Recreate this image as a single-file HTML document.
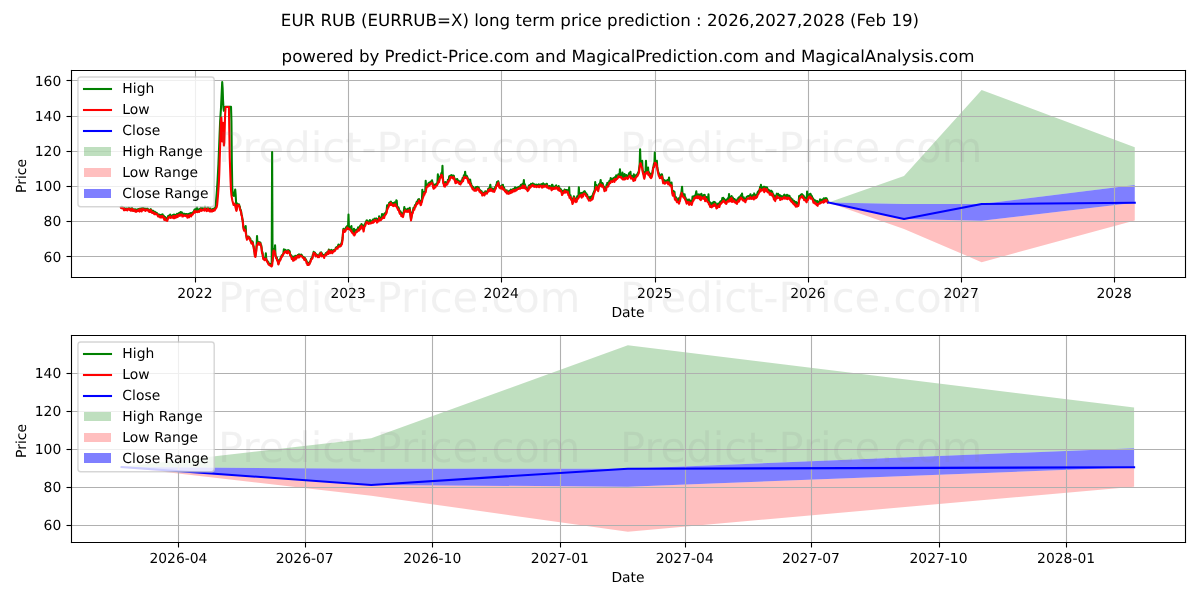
<!DOCTYPE html>
<html lang="en"><head><meta charset="utf-8"><title>EUR RUB (EURRUB=X) long term price prediction</title>
<style>html,body{margin:0;padding:0;background:#fff;width:1200px;height:600px;overflow:hidden}svg{display:block;text-rendering:geometricPrecision;will-change:transform}</style>
</head><body>
<svg width="1200" height="600" viewBox="0 0 864 432" version="1.1">
 <defs>
  <style type="text/css">*{stroke-linejoin: round; stroke-linecap: butt}</style>
 </defs>
 <g id="figure_1">
  <g id="patch_1">
   <path d="M 0 432 L 864 432 L 864 0 L 0 0 z" style="fill: #ffffff" />
  </g>
  <g id="axes_1">
   <g id="patch_2">
    <path d="M 51.12 199.44 L 853.2 199.44 L 853.2 50.4 L 51.12 50.4 z" style="fill: #ffffff" />
   </g>
   <g id="FillBetweenPolyCollection_1">
    <g clip-path="url(#p55792de455)">
     <path d="M 596.51 -286.21 L 596.51 -286.21 L 650.88 -285.14 L 706.77 -285.11 L 817.03 -298.79 L 817.03 -325.91 L 817.03 -325.91 L 706.77 -367.26 L 650.88 -305.3 L 596.51 -286.21 z" transform="translate(0 432)" style="fill: #008000; fill-opacity: 0.25" /></g>
   </g>
   <g id="FillBetweenPolyCollection_2">
    <g clip-path="url(#p55792de455)">
     <path d="M 596.51 -286.21 L 596.51 -286.21 L 650.88 -267.12 L 706.77 -243.23 L 817.03 -273.19 L 817.03 -286.02 L 817.03 -286.02 L 706.77 -273.13 L 650.88 -274.33 L 596.51 -286.21 z" transform="translate(0 432)" style="fill: #ff0000; fill-opacity: 0.25" /></g>
   </g>
   <g id="FillBetweenPolyCollection_3">
    <g clip-path="url(#p55792de455)">
     <path d="M 596.51 -286.21 L 596.51 -286.21 L 650.88 -274.33 L 706.77 -273.13 L 817.03 -286.02 L 817.03 -298.79 L 817.03 -298.79 L 706.77 -285.11 L 650.88 -285.14 L 596.51 -286.21 z" transform="translate(0 432)" style="fill: #0000ff; fill-opacity: 0.5" /></g>
   </g>
   <g id="matplotlib.axis_1">
    <g id="xtick_1">
     <g id="line2d_1">
      <path d="M 140.76 199.8 L 140.76 50.76" clip-path="url(#p55792de455)" style="fill: none; stroke: #b0b0b0; stroke-width: 0.8; stroke-linecap: square" />
     </g>
     <g id="line2d_2">
      <g>
       <path d="M 140.76 199.8 L 140.76 203.4" style="stroke: #000000; stroke-width: 0.8;stroke: #000000; stroke-width: 0.8" /></g>
     </g>
     <g id="text_1">
      <text style="font-size: 10px; font-family: 'DejaVu Sans', 'Liberation Sans', sans-serif; text-anchor: middle" x="140.3496" y="214.36" transform="rotate(-0 140.3496 214.36)">2022</text>
     </g>
    </g>
    <g id="xtick_2">
     <g id="line2d_3">
      <path d="M 250.92 199.8 L 250.92 50.76" clip-path="url(#p55792de455)" style="fill: none; stroke: #b0b0b0; stroke-width: 0.8; stroke-linecap: square" />
     </g>
     <g id="line2d_4">
      <g>
       <path d="M 250.92 199.8 L 250.92 203.4" style="stroke: #000000; stroke-width: 0.8;stroke: #000000; stroke-width: 0.8" /></g>
     </g>
     <g id="text_2">
      <text style="font-size: 10px; font-family: 'DejaVu Sans', 'Liberation Sans', sans-serif; text-anchor: middle" x="250.612596" y="214.36" transform="rotate(-0 250.612596 214.36)">2023</text>
     </g>
    </g>
    <g id="xtick_3">
     <g id="line2d_5">
      <path d="M 361.08 199.8 L 361.08 50.76" clip-path="url(#p55792de455)" style="fill: none; stroke: #b0b0b0; stroke-width: 0.8; stroke-linecap: square" />
     </g>
     <g id="line2d_6">
      <g>
       <path d="M 361.08 199.8 L 361.08 203.4" style="stroke: #000000; stroke-width: 0.8;stroke: #000000; stroke-width: 0.8" /></g>
     </g>
     <g id="text_3">
      <text style="font-size: 10px; font-family: 'DejaVu Sans', 'Liberation Sans', sans-serif; text-anchor: middle" x="360.875592" y="214.36" transform="rotate(-0 360.875592 214.36)">2024</text>
     </g>
    </g>
    <g id="xtick_4">
     <g id="line2d_7">
      <path d="M 471.96 199.8 L 471.96 50.76" clip-path="url(#p55792de455)" style="fill: none; stroke: #b0b0b0; stroke-width: 0.8; stroke-linecap: square" />
     </g>
     <g id="line2d_8">
      <g>
       <path d="M 471.96 199.8 L 471.96 203.4" style="stroke: #000000; stroke-width: 0.8;stroke: #000000; stroke-width: 0.8" /></g>
     </g>
     <g id="text_4">
      <text style="font-size: 10px; font-family: 'DejaVu Sans', 'Liberation Sans', sans-serif; text-anchor: middle" x="471.440678" y="214.36" transform="rotate(-0 471.440678 214.36)">2025</text>
     </g>
    </g>
    <g id="xtick_5">
     <g id="line2d_9">
      <path d="M 582.12 199.8 L 582.12 50.76" clip-path="url(#p55792de455)" style="fill: none; stroke: #b0b0b0; stroke-width: 0.8; stroke-linecap: square" />
     </g>
     <g id="line2d_10">
      <g>
       <path d="M 582.12 199.8 L 582.12 203.4" style="stroke: #000000; stroke-width: 0.8;stroke: #000000; stroke-width: 0.8" /></g>
     </g>
     <g id="text_5">
      <text style="font-size: 10px; font-family: 'DejaVu Sans', 'Liberation Sans', sans-serif; text-anchor: middle" x="581.703674" y="214.36" transform="rotate(-0 581.703674 214.36)">2026</text>
     </g>
    </g>
    <g id="xtick_6">
     <g id="line2d_11">
      <path d="M 692.28 199.8 L 692.28 50.76" clip-path="url(#p55792de455)" style="fill: none; stroke: #b0b0b0; stroke-width: 0.8; stroke-linecap: square" />
     </g>
     <g id="line2d_12">
      <g>
       <path d="M 692.28 199.8 L 692.28 203.4" style="stroke: #000000; stroke-width: 0.8;stroke: #000000; stroke-width: 0.8" /></g>
     </g>
     <g id="text_6">
      <text style="font-size: 10px; font-family: 'DejaVu Sans', 'Liberation Sans', sans-serif; text-anchor: middle" x="691.96667" y="214.36" transform="rotate(-0 691.96667 214.36)">2027</text>
     </g>
    </g>
    <g id="xtick_7">
     <g id="line2d_13">
      <path d="M 802.44 199.8 L 802.44 50.76" clip-path="url(#p55792de455)" style="fill: none; stroke: #b0b0b0; stroke-width: 0.8; stroke-linecap: square" />
     </g>
     <g id="line2d_14">
      <g>
       <path d="M 802.44 199.8 L 802.44 203.4" style="stroke: #000000; stroke-width: 0.8;stroke: #000000; stroke-width: 0.8" /></g>
     </g>
     <g id="text_7">
      <text style="font-size: 10px; font-family: 'DejaVu Sans', 'Liberation Sans', sans-serif; text-anchor: middle" x="802.229666" y="214.36" transform="rotate(-0 802.229666 214.36)">2028</text>
     </g>
    </g>
    <g id="text_8">
     <text style="font-size: 10px; font-family: 'DejaVu Sans', 'Liberation Sans', sans-serif; text-anchor: middle" x="452.16" y="228.44" transform="rotate(-0 452.16 228.44)">Date</text>
    </g>
   </g>
   <g id="matplotlib.axis_2">
    <g id="ytick_1">
     <g id="line2d_15">
      <path d="M 51.48 184.68 L 853.56 184.68" clip-path="url(#p55792de455)" style="fill: none; stroke: #b0b0b0; stroke-width: 0.8; stroke-linecap: square" />
     </g>
     <g id="line2d_16">
      <g>
       <path d="M 51.48 184.68 L 47.88 184.68" style="stroke: #000000; stroke-width: 0.8;stroke: #000000; stroke-width: 0.8" /></g>
     </g>
     <g id="text_9">
      <text style="font-size: 10px; font-family: 'DejaVu Sans', 'Liberation Sans', sans-serif; text-anchor: end" x="44.12" y="188.3088" transform="rotate(-0 44.12 188.3088)">60</text>
     </g>
    </g>
    <g id="ytick_2">
     <g id="line2d_17">
      <path d="M 51.48 159.48 L 853.56 159.48" clip-path="url(#p55792de455)" style="fill: none; stroke: #b0b0b0; stroke-width: 0.8; stroke-linecap: square" />
     </g>
     <g id="line2d_18">
      <g>
       <path d="M 51.48 159.48 L 47.88 159.48" style="stroke: #000000; stroke-width: 0.8;stroke: #000000; stroke-width: 0.8" /></g>
     </g>
     <g id="text_10">
      <text style="font-size: 10px; font-family: 'DejaVu Sans', 'Liberation Sans', sans-serif; text-anchor: end" x="44.12" y="163.0224" transform="rotate(-0 44.12 163.0224)">80</text>
     </g>
    </g>
    <g id="ytick_3">
     <g id="line2d_19">
      <path d="M 51.48 134.28 L 853.56 134.28" clip-path="url(#p55792de455)" style="fill: none; stroke: #b0b0b0; stroke-width: 0.8; stroke-linecap: square" />
     </g>
     <g id="line2d_20">
      <g>
       <path d="M 51.48 134.28 L 47.88 134.28" style="stroke: #000000; stroke-width: 0.8;stroke: #000000; stroke-width: 0.8" /></g>
     </g>
     <g id="text_11">
      <text style="font-size: 10px; font-family: 'DejaVu Sans', 'Liberation Sans', sans-serif; text-anchor: end" x="44.12" y="137.736" transform="rotate(-0 44.12 137.736)">100</text>
     </g>
    </g>
    <g id="ytick_4">
     <g id="line2d_21">
      <path d="M 51.48 109.08 L 853.56 109.08" clip-path="url(#p55792de455)" style="fill: none; stroke: #b0b0b0; stroke-width: 0.8; stroke-linecap: square" />
     </g>
     <g id="line2d_22">
      <g>
       <path d="M 51.48 109.08 L 47.88 109.08" style="stroke: #000000; stroke-width: 0.8;stroke: #000000; stroke-width: 0.8" /></g>
     </g>
     <g id="text_12">
      <text style="font-size: 10px; font-family: 'DejaVu Sans', 'Liberation Sans', sans-serif; text-anchor: end" x="44.12" y="112.4496" transform="rotate(-0 44.12 112.4496)">120</text>
     </g>
    </g>
    <g id="ytick_5">
     <g id="line2d_23">
      <path d="M 51.48 83.88 L 853.56 83.88" clip-path="url(#p55792de455)" style="fill: none; stroke: #b0b0b0; stroke-width: 0.8; stroke-linecap: square" />
     </g>
     <g id="line2d_24">
      <g>
       <path d="M 51.48 83.88 L 47.88 83.88" style="stroke: #000000; stroke-width: 0.8;stroke: #000000; stroke-width: 0.8" /></g>
     </g>
     <g id="text_13">
      <text style="font-size: 10px; font-family: 'DejaVu Sans', 'Liberation Sans', sans-serif; text-anchor: end" x="44.12" y="87.1632" transform="rotate(-0 44.12 87.1632)">140</text>
     </g>
    </g>
    <g id="ytick_6">
     <g id="line2d_25">
      <path d="M 51.48 57.96 L 853.56 57.96" clip-path="url(#p55792de455)" style="fill: none; stroke: #b0b0b0; stroke-width: 0.8; stroke-linecap: square" />
     </g>
     <g id="line2d_26">
      <g>
       <path d="M 51.48 57.96 L 47.88 57.96" style="stroke: #000000; stroke-width: 0.8;stroke: #000000; stroke-width: 0.8" /></g>
     </g>
     <g id="text_14">
      <text style="font-size: 10px; font-family: 'DejaVu Sans', 'Liberation Sans', sans-serif; text-anchor: end" x="44.12" y="61.8768" transform="rotate(-0 44.12 61.8768)">160</text>
     </g>
    </g>
    <g id="text_15">
     <text style="font-size: 10px; font-family: 'DejaVu Sans', 'Liberation Sans', sans-serif; text-anchor: middle" x="18.88" y="126.72" transform="rotate(-90 18.88 126.72)">Price</text>
    </g>
   </g>
   <g id="line2d_27">
    <path d="M 87.18 149.25 L 87.48 149.71 L 87.79 148.81 L 88.09 149.21 L 88.69 149.38 L 89.3 150.74 L 89.6 149.81 L 89.9 150.01 L 90.2 151.04 L 90.5 150.79 L 90.81 150.69 L 91.11 150 L 91.71 150.97 L 92.02 150.06 L 92.32 150.01 L 92.62 149.57 L 92.92 150.22 L 93.22 149.86 L 93.53 150.94 L 93.83 150.18 L 94.13 151.31 L 94.43 151.04 L 94.73 151.24 L 95.04 149.63 L 95.64 151.47 L 96.24 150.75 L 96.55 151.38 L 96.85 150.81 L 97.15 151.13 L 97.45 151.96 L 97.75 150.76 L 98.36 152.02 L 98.96 150.75 L 99.27 151.58 L 99.57 151.31 L 99.87 150.52 L 100.17 151.41 L 100.47 151.23 L 100.78 150.22 L 101.08 151.43 L 101.38 150.85 L 101.68 149.99 L 101.98 151.73 L 102.29 151.12 L 102.59 149.76 L 103.19 150.7 L 103.49 149.75 L 103.8 150.78 L 104.1 150.47 L 104.4 151.07 L 104.7 151.26 L 105.01 150.11 L 105.31 150.47 L 105.91 150.63 L 106.21 150.22 L 107.42 151.99 L 107.72 151.01 L 108.03 150.95 L 108.33 151.8 L 108.63 150.61 L 108.93 151.63 L 109.23 151.32 L 109.54 152.94 L 110.44 151.83 L 111.05 153.33 L 111.35 152.71 L 111.65 152.55 L 111.95 153.4 L 112.26 153.23 L 112.86 153.28 L 113.16 153.71 L 113.46 153.92 L 113.77 154.83 L 114.07 154.85 L 114.37 154.68 L 114.67 154.81 L 114.97 154.55 L 115.88 155.42 L 116.18 154.67 L 116.48 155.45 L 116.79 154.63 L 117.09 154.4 L 117.39 155.44 L 117.69 155.17 L 117.99 155.45 L 118.3 157.23 L 118.6 155.98 L 119.2 156.9 L 119.51 157.38 L 119.81 157.38 L 120.11 157.96 L 120.41 158.15 L 120.71 156.6 L 121.02 155.66 L 121.32 155.79 L 121.62 155.67 L 121.92 154.99 L 122.22 155.69 L 122.53 154.47 L 122.83 155.45 L 123.13 155.49 L 123.43 155.75 L 123.73 155.5 L 124.04 155.42 L 124.34 154.85 L 124.64 155.17 L 124.94 155.97 L 125.25 154.39 L 125.55 156.02 L 125.85 154.66 L 126.15 155.36 L 126.45 154.97 L 126.76 155.81 L 127.06 154.49 L 127.36 154.06 L 127.66 155.2 L 127.96 155.13 L 128.27 153.96 L 128.87 153.49 L 129.17 153.32 L 129.47 154.47 L 129.78 153.8 L 130.08 152.64 L 130.38 153.48 L 130.68 153.77 L 130.98 152.93 L 131.29 154.93 L 131.59 154.23 L 131.89 154.93 L 132.5 153.79 L 132.8 154.27 L 133.1 154.34 L 133.4 154.53 L 133.7 154.12 L 134.01 154.27 L 134.31 154.04 L 134.61 154.18 L 134.91 155.88 L 135.21 154.32 L 135.52 154.12 L 135.82 154.63 L 136.12 155.61 L 136.42 153.74 L 136.72 154.38 L 137.03 154.36 L 137.33 153.4 L 137.63 155.01 L 137.93 153.87 L 138.23 153.75 L 138.54 153.05 L 138.84 153.47 L 139.14 152.63 L 139.44 152.52 L 140.05 150.92 L 140.35 152.09 L 140.65 150.72 L 140.95 151.88 L 141.26 151.44 L 141.56 151.47 L 141.86 149.04 L 142.16 151.2 L 142.46 151.24 L 142.77 150.84 L 143.07 150.99 L 143.37 151.6 L 143.67 150.52 L 143.97 150.91 L 144.58 149.52 L 144.88 150.93 L 145.18 150.75 L 145.49 149.67 L 145.79 150.36 L 146.39 150.51 L 147 149.79 L 147.3 150.77 L 147.6 148.54 L 147.9 150.3 L 148.2 150.12 L 148.81 150.7 L 149.11 150.51 L 149.41 149.61 L 149.71 149.12 L 150.02 150.47 L 150.32 149.95 L 150.92 151.36 L 151.22 150.22 L 151.53 150.04 L 151.83 151.42 L 152.13 150.98 L 152.43 151.26 L 152.74 150.84 L 153.04 150.82 L 153.34 150.37 L 153.64 150.83 L 154.25 150 L 154.55 150.58 L 155.15 149.5 L 156.06 138.98 L 156.66 130 L 157.27 118.31 L 158.48 87.8 L 159.08 78.45 L 159.99 59.11 L 160.29 63.39 L 160.59 72.17 L 160.89 77.48 L 161.19 79.75 L 162.1 76.97 L 162.4 76.82 L 166.33 76.82 L 166.63 87.16 L 166.93 117.59 L 167.24 135.67 L 167.54 140.45 L 168.44 141.09 L 169.35 136.43 L 169.65 139.86 L 170.26 151.01 L 170.56 149.65 L 170.86 146.5 L 171.16 147.51 L 171.46 147.59 L 171.77 147.51 L 172.07 147.08 L 172.37 148.34 L 172.67 148.8 L 172.98 150.91 L 173.28 150.98 L 173.58 152.08 L 173.88 154.27 L 174.18 155.02 L 174.49 157.6 L 174.79 158.65 L 175.09 162.31 L 175.69 165.6 L 176 164.61 L 176.3 164.28 L 176.6 165.03 L 176.9 162.72 L 177.2 168.71 L 177.81 171.98 L 178.11 170.81 L 178.41 170.48 L 179.02 170.31 L 179.32 170.92 L 179.62 171.05 L 179.92 171.91 L 180.23 171.84 L 180.53 173.43 L 180.83 173.92 L 181.13 174.83 L 181.74 173.81 L 182.04 174.43 L 182.34 176.54 L 182.64 177.39 L 182.94 179.94 L 183.25 181.13 L 183.55 183.92 L 183.85 184.42 L 184.45 180.18 L 184.76 176.81 L 185.06 169.92 L 185.36 175.32 L 185.66 175.28 L 185.97 174.01 L 186.27 174.43 L 186.57 175.62 L 186.87 174.38 L 187.17 174.64 L 187.48 174.56 L 187.78 176.25 L 188.08 176.56 L 188.38 178.58 L 188.68 181.55 L 188.99 181.5 L 189.29 184.48 L 189.59 185.71 L 189.89 185.45 L 190.19 185.96 L 190.5 186.98 L 190.8 185.86 L 191.1 185.44 L 191.4 182.38 L 191.7 186.15 L 192.01 187.14 L 192.31 187.68 L 192.61 187.94 L 192.91 188.81 L 193.22 188.69 L 193.52 189.88 L 193.82 190.04 L 194.12 190.35 L 194.42 190 L 194.73 190.6 L 195.03 190.73 L 195.33 191.31 L 195.63 191.03 L 195.93 109.44 L 196.24 187.77 L 196.84 180.44 L 197.14 179.36 L 197.44 181.07 L 197.75 180.13 L 198.05 176.62 L 198.35 183.87 L 198.65 184.54 L 198.96 185.7 L 199.26 185.23 L 199.56 186.78 L 200.16 188.17 L 200.47 189.91 L 200.77 188.87 L 201.07 187.39 L 201.37 186.86 L 201.67 187.09 L 201.98 186.3 L 202.28 184.98 L 202.58 184.8 L 202.88 183.83 L 203.49 183.62 L 203.79 183.2 L 204.09 181.72 L 204.39 179.5 L 204.69 180.83 L 205 180.13 L 205.3 180.43 L 205.6 179.91 L 205.9 180.26 L 206.21 181.63 L 206.51 180.9 L 206.81 181.24 L 207.11 181.34 L 207.41 180.04 L 207.72 180.68 L 208.02 180.82 L 208.32 180.5 L 208.62 181.06 L 208.92 183.24 L 209.23 183.72 L 209.53 183.6 L 209.83 184.17 L 210.13 185.9 L 210.43 185.48 L 210.74 185.26 L 211.04 184.82 L 211.34 186.24 L 211.64 186.9 L 211.95 185.79 L 212.25 185.32 L 212.55 184.22 L 212.85 186.44 L 213.15 184.35 L 213.46 185.42 L 213.76 184.23 L 214.06 184.68 L 214.36 183.64 L 214.66 183.94 L 214.97 184.51 L 215.27 183.16 L 215.57 184.41 L 216.17 183.5 L 216.48 183.47 L 216.78 183.6 L 217.08 183.38 L 217.68 184.35 L 217.99 184.78 L 218.59 185.19 L 218.89 185.58 L 219.2 186.57 L 219.5 185.68 L 219.8 186.61 L 220.1 186.55 L 220.71 187.94 L 221.31 189.75 L 221.61 189.01 L 221.91 189.48 L 222.22 190.22 L 222.52 189.63 L 222.82 189.66 L 223.12 188.6 L 223.42 188.29 L 224.03 186.08 L 224.63 185.54 L 224.93 185.45 L 225.24 183.31 L 225.54 183.13 L 225.84 181.32 L 226.14 182.13 L 226.45 181.69 L 226.75 181.85 L 227.35 183.79 L 227.65 182.96 L 228.26 183.64 L 228.56 183.61 L 228.86 184.19 L 229.16 184.07 L 229.47 184.12 L 229.77 184.43 L 230.07 182.77 L 230.37 182.87 L 230.67 181.84 L 231.28 181.73 L 231.58 183.78 L 231.88 182.58 L 232.19 183.72 L 232.49 183.67 L 232.79 183.95 L 233.09 183.65 L 233.39 184.77 L 233.7 183.7 L 234 183.17 L 234.3 182.89 L 234.6 182.28 L 234.9 182.88 L 235.21 182.72 L 235.51 181.74 L 235.81 181.25 L 236.11 181.17 L 236.41 182.33 L 236.72 179.66 L 237.02 181.68 L 237.32 180.16 L 237.62 181.7 L 237.92 180.62 L 238.23 180.53 L 238.53 179.9 L 238.83 180.06 L 239.13 181.64 L 239.74 180.85 L 240.34 179.97 L 240.95 180.12 L 241.25 179.8 L 241.55 179.22 L 241.85 178.24 L 242.15 178.3 L 242.46 177.81 L 243.06 178.08 L 243.36 177.27 L 243.66 176.11 L 243.97 176.98 L 244.27 176.64 L 244.57 176.75 L 244.87 176.66 L 245.17 175.99 L 245.48 176.47 L 246.38 173.25 L 246.69 171.19 L 246.99 167.09 L 247.29 164.79 L 247.89 165.76 L 248.2 166.26 L 248.5 165 L 248.8 165.24 L 249.1 163.57 L 249.4 163.73 L 250.01 162.66 L 250.31 163.7 L 250.61 163.48 L 250.91 154.44 L 251.22 163.35 L 251.52 163.74 L 251.82 163.55 L 252.12 164.28 L 252.43 164.67 L 252.73 164.75 L 253.03 162.72 L 253.33 166.27 L 253.94 166.63 L 254.24 166.42 L 254.54 167.58 L 254.84 164.66 L 255.14 168.28 L 255.75 166.55 L 256.05 166.65 L 256.35 165.41 L 256.96 165.59 L 257.26 165.34 L 257.56 164.83 L 257.86 163.68 L 258.16 164.97 L 258.47 164.8 L 258.77 164.38 L 259.37 162.33 L 259.68 163.42 L 259.98 162.91 L 260.28 161.27 L 261.49 163.44 L 261.79 165.32 L 262.39 161.69 L 262.7 161.79 L 263 161.13 L 263.3 160.06 L 263.6 159.75 L 263.9 158.73 L 264.21 158.65 L 264.51 159.38 L 264.81 159.78 L 265.11 159.63 L 265.42 159.93 L 265.72 159.16 L 266.02 159.5 L 266.32 158.4 L 266.62 159.76 L 266.93 159.84 L 267.53 159.14 L 267.83 159.32 L 268.44 158.15 L 268.74 159.17 L 269.04 158.39 L 269.34 158.23 L 269.64 157.4 L 269.95 158.06 L 270.25 158.1 L 270.55 157.94 L 270.85 157.25 L 271.46 159.24 L 272.06 157.66 L 272.36 157.8 L 272.67 158.07 L 272.97 155.77 L 273.27 156.99 L 273.57 157.01 L 274.18 157.36 L 274.48 157.02 L 274.78 156.21 L 275.08 154.08 L 275.38 156.24 L 275.69 155.35 L 275.99 155.21 L 276.29 154.38 L 276.59 155.93 L 276.89 153.72 L 277.2 153.95 L 277.5 153.16 L 277.8 153.48 L 278.4 151.2 L 278.71 147.82 L 279.01 149.45 L 279.31 148.54 L 279.61 148.05 L 279.92 147.21 L 280.22 146 L 280.52 145.77 L 280.82 146.5 L 281.12 145.3 L 281.43 145.11 L 281.73 146.46 L 282.03 146.23 L 282.33 146.64 L 282.63 146.16 L 282.94 147.13 L 283.24 146.27 L 283.54 147.39 L 283.84 146.21 L 284.14 145.72 L 284.45 146.33 L 284.75 145.95 L 285.05 147.3 L 285.35 144.22 L 285.66 144.5 L 285.96 148.69 L 286.26 149.11 L 286.56 149.76 L 286.86 149.36 L 287.17 150.21 L 287.77 152.58 L 288.07 152.72 L 288.37 152.18 L 288.98 154.18 L 289.58 153.64 L 289.88 153.93 L 290.19 155.01 L 290.79 151.97 L 291.09 149.04 L 291.39 151.41 L 291.7 150.42 L 292 150.55 L 292.6 151.26 L 292.91 150.96 L 293.21 151.33 L 293.51 150.32 L 293.81 150.65 L 294.11 150.42 L 294.42 151.16 L 295.02 149.62 L 295.93 157.66 L 296.53 154.18 L 296.83 152.77 L 297.13 152.5 L 297.74 149.58 L 298.34 149.91 L 298.64 148.22 L 298.95 147.48 L 299.25 147.6 L 300.16 145.05 L 300.46 145.39 L 300.76 145.38 L 301.06 143.64 L 301.36 144.72 L 301.67 143.25 L 301.97 144.15 L 302.27 144.5 L 302.57 145.74 L 302.87 146.51 L 303.18 146.21 L 303.48 144.43 L 303.78 144.52 L 304.08 136.66 L 304.38 141.84 L 304.99 139.91 L 305.29 138.2 L 305.59 139.16 L 305.9 138.09 L 306.2 137.66 L 306.5 130.18 L 306.8 135.66 L 307.1 133.85 L 307.41 133.6 L 307.71 132.91 L 308.01 133.08 L 308.61 131.78 L 308.92 132.75 L 309.22 131.43 L 309.52 131.3 L 309.82 131.65 L 310.43 130.58 L 310.73 130.57 L 311.03 129.82 L 312.24 134.96 L 312.54 134.19 L 312.84 134.05 L 313.15 132.9 L 313.45 133.41 L 313.75 132.85 L 314.05 132.78 L 314.35 132.1 L 314.66 132.14 L 314.96 131.22 L 315.26 125.5 L 315.56 129.92 L 315.86 129.51 L 316.17 130.22 L 316.47 128.16 L 316.77 127.35 L 317.07 126.94 L 317.98 124.28 L 318.28 125.32 L 318.58 119.3 L 318.89 127.94 L 319.19 130.88 L 319.49 131.42 L 319.79 133.17 L 320.09 132.06 L 320.4 132.85 L 320.7 131 L 321 131.53 L 321.3 131.6 L 321.6 132.03 L 321.91 131.38 L 322.21 131.43 L 322.51 129.42 L 322.81 130.14 L 323.11 129.14 L 323.42 126.94 L 323.72 128.44 L 324.32 126.43 L 324.62 127.21 L 324.93 126.33 L 325.23 126.1 L 325.53 126.9 L 325.83 126.5 L 326.14 127.52 L 326.44 126.42 L 326.74 126.49 L 327.04 128.13 L 327.95 130.8 L 328.25 130.15 L 328.55 129.06 L 328.85 130.59 L 329.16 128.88 L 329.46 130.27 L 329.76 129.82 L 330.06 130.21 L 330.36 130.21 L 330.67 131.35 L 330.97 131.03 L 331.27 131.57 L 331.57 131.47 L 332.18 130.13 L 332.48 129.79 L 332.78 129.94 L 333.08 128.16 L 333.39 129.58 L 333.99 126.26 L 334.29 126.36 L 334.59 126.68 L 334.9 123.62 L 335.2 126.73 L 335.8 126.4 L 336.1 126.71 L 336.71 128.14 L 337.31 129.98 L 337.61 129.2 L 338.22 129.95 L 338.52 129.38 L 338.82 131.59 L 339.13 131.97 L 339.43 133.57 L 340.03 134.16 L 340.33 135.29 L 340.64 134.59 L 340.94 135.08 L 341.24 135.89 L 341.84 135.82 L 342.15 135.75 L 342.45 136.07 L 342.75 134.64 L 343.05 135.4 L 343.35 134.7 L 343.66 134.59 L 343.96 135.6 L 344.26 135.31 L 344.56 134.82 L 344.86 135.45 L 345.17 137.03 L 345.47 136.7 L 345.77 137.41 L 346.07 137.21 L 346.38 138.09 L 346.68 137.59 L 346.98 138.32 L 347.28 140.07 L 347.58 138.84 L 347.89 138.76 L 348.19 138.92 L 348.49 139.33 L 348.79 140.07 L 349.4 137.74 L 349.7 138.38 L 350 138.36 L 350.3 137.99 L 350.6 138.72 L 350.91 137.76 L 351.21 137.65 L 351.51 135.94 L 351.81 136.66 L 352.11 136.98 L 352.42 135.33 L 352.72 134.91 L 353.02 132.98 L 353.32 136.16 L 353.63 135.49 L 354.53 136.99 L 354.83 135.79 L 355.14 137.17 L 355.44 136.7 L 355.74 137.08 L 356.04 136.98 L 356.65 134.51 L 356.95 134.91 L 357.25 133.17 L 357.55 132.98 L 357.85 131.04 L 358.16 131.18 L 358.46 131.94 L 358.76 130.43 L 359.37 133.82 L 359.67 134.12 L 359.97 133.86 L 360.27 134.6 L 360.88 134.45 L 361.18 134.9 L 361.48 133.38 L 361.78 134.79 L 362.08 132.98 L 362.39 135.54 L 362.69 135.05 L 362.99 135.08 L 363.29 136.47 L 363.59 136.98 L 363.9 137 L 364.2 137.44 L 364.5 137.63 L 364.8 136.95 L 365.1 138.44 L 365.41 138.48 L 365.71 138.09 L 366.01 138.16 L 366.31 138.5 L 366.62 137.3 L 367.22 137.66 L 367.52 138.36 L 367.82 136.56 L 368.13 137.66 L 368.43 136.93 L 368.73 136.52 L 369.03 137.31 L 369.64 136.02 L 369.94 136.27 L 370.24 136.89 L 370.54 136.58 L 370.84 134.86 L 371.15 136.35 L 371.45 136.48 L 371.75 135.38 L 372.05 135.73 L 372.36 135.26 L 372.66 135.3 L 372.96 135.1 L 373.26 134.66 L 373.56 135.03 L 373.87 134.43 L 374.17 134.3 L 374.47 134.89 L 375.07 132.98 L 375.38 134.46 L 375.68 133.77 L 375.98 134.57 L 376.28 132.29 L 376.58 133.59 L 376.89 132.87 L 377.19 129.6 L 377.49 134.34 L 377.79 132.58 L 378.09 133.32 L 378.4 134.77 L 379 135.68 L 379.3 135.46 L 379.61 135.85 L 379.91 136.68 L 380.21 135.94 L 380.51 136.07 L 380.81 133.54 L 381.12 134.78 L 381.42 133.32 L 381.72 134.09 L 382.02 133.54 L 382.32 132.43 L 382.63 133.56 L 383.23 132.43 L 383.53 132.04 L 384.14 132.91 L 384.44 133.6 L 384.74 132.72 L 385.04 133.49 L 385.34 133.07 L 385.65 133.18 L 385.95 133.44 L 386.25 132.93 L 386.86 133.26 L 387.16 133.31 L 387.46 133.49 L 387.76 132.76 L 388.06 133.95 L 388.37 132.93 L 388.67 133.5 L 388.97 132.92 L 389.27 133.24 L 389.57 133.07 L 389.88 132.62 L 390.18 134.23 L 390.48 133.45 L 390.78 133.83 L 391.08 131.98 L 391.39 132.85 L 391.69 132.96 L 391.99 133.2 L 392.29 132.77 L 392.6 133.23 L 392.9 133.48 L 393.2 132.47 L 393.5 132.48 L 393.8 132.3 L 394.11 134.24 L 394.41 133.81 L 395.01 134.47 L 395.31 134.71 L 395.62 133.91 L 395.92 134.15 L 396.22 134.59 L 396.52 134.08 L 396.82 134.87 L 397.13 136 L 397.43 132.98 L 397.73 132.98 L 398.33 134.99 L 398.94 134.44 L 399.24 134.47 L 399.54 135.27 L 399.85 134.02 L 400.15 133.92 L 400.45 133.52 L 400.75 134.65 L 401.05 134.6 L 401.36 135.25 L 401.66 134.86 L 401.96 135.63 L 402.26 133.98 L 402.56 135.56 L 402.87 136.53 L 403.17 135.94 L 403.47 135.75 L 403.77 136.46 L 404.07 136.55 L 404.68 139.21 L 404.98 139.12 L 405.28 137.56 L 405.58 137.71 L 405.89 137.46 L 406.19 137.53 L 406.49 136.45 L 406.79 136.65 L 407.1 137.45 L 407.4 137.26 L 407.7 136.88 L 408.3 136.9 L 408.61 137.63 L 408.91 137.22 L 409.21 139.44 L 409.51 139.19 L 409.81 134.86 L 410.12 140.82 L 410.42 141.53 L 410.72 140.61 L 411.02 142.3 L 411.32 143.08 L 411.63 142.84 L 411.93 143.93 L 412.23 145.91 L 412.53 144.65 L 412.84 144.71 L 413.14 141.28 L 413.44 141.67 L 414.04 143.2 L 414.35 143.24 L 414.65 144.22 L 414.95 143.51 L 415.25 143.66 L 415.55 141.34 L 415.86 142.23 L 416.16 140.91 L 416.46 141.53 L 416.76 134.86 L 417.06 139.88 L 417.37 139.38 L 417.67 139.97 L 417.97 139.79 L 418.27 138.94 L 418.57 140.72 L 418.88 140.85 L 419.18 138.78 L 419.78 140 L 420.09 138.66 L 420.39 137.95 L 420.69 138.02 L 420.99 137.68 L 421.9 139.81 L 422.2 139.3 L 422.5 140.2 L 422.8 140.24 L 423.11 141.71 L 423.41 141.69 L 423.71 142.18 L 424.01 142.95 L 424.31 142.75 L 424.62 143.05 L 424.92 141.62 L 425.22 143.03 L 425.52 142.81 L 425.83 142.27 L 426.13 142.41 L 426.43 140.75 L 426.73 141.8 L 427.03 139.68 L 427.64 138.16 L 428.24 136.83 L 428.54 131.04 L 428.85 135.47 L 429.15 133.83 L 429.45 133.14 L 429.75 134.71 L 430.05 134.21 L 430.36 134.95 L 430.66 136.16 L 430.96 134.92 L 431.26 132.77 L 431.56 132.27 L 431.87 132.2 L 432.17 131.37 L 432.47 129.6 L 432.77 132.01 L 433.08 133.07 L 433.68 131.78 L 433.98 132.21 L 434.28 133.76 L 434.89 134.5 L 435.19 136.29 L 435.49 135.99 L 435.79 136.05 L 436.1 135.52 L 436.4 135.3 L 436.7 133.12 L 437 133.24 L 437.3 131.54 L 437.61 133.13 L 437.91 132.96 L 438.81 130.28 L 439.12 130.05 L 439.42 130.57 L 439.72 128.16 L 440.02 129.18 L 440.63 129.58 L 440.93 129.58 L 441.23 128.58 L 441.53 129.21 L 441.84 128.32 L 442.14 128 L 442.44 129.52 L 442.74 127.65 L 443.04 128.34 L 443.35 128.31 L 443.65 126.22 L 444.25 127.28 L 444.55 126.77 L 444.86 126.86 L 445.16 125.54 L 445.46 126.11 L 445.76 125.92 L 446.07 125.97 L 446.37 121.82 L 446.67 125.89 L 446.97 126.52 L 447.27 125.85 L 447.58 126.99 L 447.88 127.35 L 448.18 124.2 L 448.48 127.94 L 448.78 127.36 L 449.09 127.46 L 449.39 128.06 L 449.69 125.28 L 449.99 127.83 L 450.29 127.25 L 450.6 127.22 L 450.9 126.03 L 451.2 126.77 L 451.8 126.76 L 452.11 127.23 L 453.01 124.66 L 453.32 125.02 L 453.62 124.83 L 453.92 123.62 L 454.22 127.11 L 454.83 126.57 L 455.13 127.23 L 455.43 127.4 L 455.73 127.43 L 456.03 129.08 L 456.34 125.42 L 456.94 128.65 L 457.24 128.58 L 457.54 126.8 L 457.85 126.22 L 458.15 126.22 L 458.45 125.65 L 458.75 125.75 L 459.96 123.18 L 460.57 117.96 L 460.87 107.42 L 461.17 116.3 L 461.47 116.66 L 461.77 118.5 L 462.08 118.86 L 462.38 115.78 L 462.68 122.37 L 463.28 124.03 L 463.89 127.52 L 464.19 126.2 L 464.49 123.68 L 464.79 123.83 L 465.1 115.78 L 465.4 122.61 L 466 123.64 L 466.31 122.38 L 466.61 120.6 L 466.91 124.92 L 467.21 123.84 L 467.51 124.31 L 467.82 125.74 L 468.12 126.26 L 468.42 125.39 L 468.72 126.88 L 469.33 125.89 L 469.93 122.98 L 470.23 120.57 L 470.53 119.67 L 470.84 117.81 L 471.14 118.92 L 471.44 109.8 L 471.74 116.64 L 472.04 116.14 L 472.35 116.53 L 472.65 116.56 L 472.95 115.78 L 473.25 120.45 L 473.86 123.66 L 475.07 126.7 L 475.37 126.5 L 475.67 126.59 L 475.97 126.92 L 476.27 125.42 L 476.58 125.42 L 477.18 128.52 L 477.48 130.29 L 477.78 129.43 L 478.09 130.63 L 478.39 129.82 L 478.69 130.35 L 479.6 130.18 L 480.2 130.28 L 480.5 129.78 L 480.81 129.64 L 481.11 131.47 L 481.71 127.8 L 482.01 130.91 L 482.32 131.95 L 482.62 132.55 L 482.92 131.93 L 483.22 133.03 L 483.52 131.49 L 483.83 135.59 L 484.43 139.57 L 484.73 139.09 L 485.03 137.51 L 485.34 138.38 L 485.64 138.17 L 485.94 142.11 L 486.24 142.16 L 486.55 142.55 L 486.85 142.04 L 487.15 143.57 L 487.45 144.12 L 487.75 143.95 L 488.06 144.07 L 488.36 143.79 L 488.66 142.78 L 488.96 144.83 L 489.26 143.29 L 489.57 143.18 L 490.17 139.79 L 490.47 139.94 L 491.08 134.42 L 491.38 138.89 L 491.68 139.32 L 491.98 140.17 L 492.28 140.14 L 492.59 140.82 L 492.89 139.86 L 493.19 141.99 L 493.49 142.04 L 493.8 142.97 L 494.4 145.3 L 494.7 144.19 L 495 144.36 L 495.31 143.79 L 495.61 144.88 L 495.91 145.21 L 496.21 143.64 L 496.51 144.12 L 497.12 145.74 L 497.42 144.76 L 497.72 144.55 L 498.02 146.17 L 498.33 144.58 L 498.63 141.55 L 498.93 142.82 L 499.23 143.07 L 499.54 142.5 L 499.84 141.13 L 500.14 140.98 L 500.44 141.27 L 500.74 141.1 L 501.35 137.74 L 501.65 141.17 L 501.95 139.84 L 502.25 140.48 L 502.56 140.83 L 502.86 140.08 L 503.16 139.95 L 503.46 140.41 L 503.76 141.59 L 504.07 142.27 L 504.37 140.09 L 504.67 142.55 L 504.97 139.46 L 505.27 141.59 L 505.58 141.77 L 505.88 141.55 L 506.18 140.83 L 506.48 140.47 L 506.79 141.52 L 507.09 141.08 L 507.39 140.36 L 507.69 143.3 L 507.99 142.39 L 508.3 142.93 L 508.6 141.86 L 508.9 143.24 L 509.2 143.25 L 509.5 144.29 L 509.81 143.52 L 510.11 139.86 L 510.41 144.69 L 510.71 145.1 L 511.32 147.54 L 511.62 145.94 L 511.92 147.17 L 512.22 147.01 L 512.52 147.3 L 512.83 146.97 L 513.13 145.93 L 513.43 147.14 L 513.73 145.84 L 514.04 145.36 L 514.34 146.84 L 514.64 145.54 L 514.94 146.12 L 515.24 146.22 L 515.55 147.08 L 515.85 148.42 L 516.15 147.67 L 516.45 148.12 L 516.75 147.02 L 517.06 146.49 L 517.36 146.48 L 517.66 147.1 L 517.96 147.23 L 518.26 145.88 L 518.57 145.11 L 518.87 145.74 L 519.17 144.71 L 519.47 145.11 L 519.78 144.49 L 520.08 142.56 L 520.38 143.71 L 520.68 142.45 L 520.98 143.55 L 521.29 143 L 521.59 143.74 L 521.89 143.72 L 522.19 144.72 L 522.49 144.57 L 522.8 145.46 L 523.1 145.31 L 523.4 143.8 L 523.7 143.44 L 524 142.89 L 524.31 143.74 L 524.61 143.1 L 524.91 139.68 L 525.21 142.47 L 525.51 143.18 L 525.82 141.8 L 526.12 143.01 L 526.72 141.17 L 527.03 144.01 L 527.33 143.76 L 527.63 142.28 L 527.93 143.18 L 528.23 143.47 L 528.54 144 L 528.84 143.31 L 529.44 144.39 L 529.74 144.51 L 530.05 144.85 L 530.35 144.24 L 530.65 145.02 L 530.95 143.47 L 531.25 144.03 L 531.56 142.69 L 531.86 142.23 L 532.16 143.77 L 532.46 141.85 L 532.77 142.08 L 533.37 140.68 L 533.67 141.16 L 533.97 141.39 L 534.28 139.32 L 534.58 142.56 L 534.88 142.61 L 535.18 142.44 L 535.48 142.03 L 535.79 143.42 L 536.09 143.09 L 536.69 144.1 L 536.99 143.07 L 537.3 142.59 L 537.6 141.77 L 538.81 141.14 L 539.41 141.65 L 539.71 140.85 L 540.02 141.14 L 540.32 139.85 L 540.62 141.58 L 540.92 140.88 L 541.22 141.79 L 541.53 141.26 L 541.83 141.47 L 542.13 140.44 L 542.43 141.04 L 542.73 142.19 L 543.04 139.26 L 543.34 141.39 L 543.64 141.54 L 543.94 140.62 L 544.24 140.45 L 544.55 140.75 L 544.85 140.03 L 545.15 140.32 L 545.45 138.6 L 545.75 138.02 L 546.06 138.18 L 546.96 136.32 L 547.27 134.55 L 547.57 136.59 L 547.87 133.02 L 548.17 135.68 L 548.47 135.18 L 548.78 135 L 549.08 135.48 L 549.38 135.56 L 549.68 134.46 L 549.98 135.28 L 550.29 136.93 L 550.59 134.45 L 550.89 135.75 L 551.19 135.59 L 551.49 135.07 L 551.8 136.22 L 552.1 134.81 L 552.4 135.31 L 552.7 137.16 L 553.01 136.42 L 553.61 137.29 L 553.91 137.11 L 554.21 138.63 L 554.52 137.28 L 554.82 138.52 L 555.42 137.34 L 555.72 138.83 L 556.03 138.2 L 556.33 139.68 L 556.63 139.69 L 556.93 140.36 L 557.23 142.32 L 557.54 140.88 L 558.14 143.28 L 558.44 141.97 L 558.74 141.89 L 559.05 140.29 L 559.35 139.44 L 559.95 140.92 L 560.26 139.5 L 560.56 140.69 L 560.86 140.6 L 561.16 141.03 L 561.46 140.55 L 561.77 142.51 L 562.37 141.06 L 562.67 141.35 L 562.97 141.89 L 563.28 141.58 L 563.58 141.5 L 563.88 141.2 L 564.18 141.5 L 564.48 140.37 L 564.79 140.13 L 565.09 141.58 L 565.39 140.69 L 566.3 141.23 L 566.6 140.3 L 566.9 141.96 L 567.2 140.58 L 567.51 140.99 L 567.81 141.14 L 568.41 141.03 L 568.71 142.17 L 569.02 142.39 L 569.32 142.44 L 569.62 143.42 L 569.92 143.8 L 570.22 143.74 L 570.53 143.48 L 570.83 144.68 L 571.43 145.2 L 571.73 144.69 L 572.04 146.28 L 572.34 145.21 L 572.94 147.19 L 573.25 145.44 L 573.85 147.26 L 574.45 145.96 L 574.76 146.62 L 575.06 145.59 L 575.36 141.12 L 575.66 142.2 L 575.96 140.99 L 576.27 140.8 L 576.57 140.2 L 576.87 140.12 L 577.17 140.47 L 577.47 139.82 L 578.08 141.07 L 578.38 140.71 L 578.68 141.06 L 578.98 142.17 L 579.29 142.46 L 579.59 142.32 L 579.89 143.03 L 580.19 142.92 L 580.5 143.92 L 580.8 144.02 L 581.1 137.88 L 581.4 142.54 L 581.7 142.71 L 582.01 141.18 L 582.31 140.94 L 582.61 139.82 L 582.91 140.14 L 583.21 140.1 L 583.52 139.5 L 583.82 140.37 L 584.42 141.07 L 585.03 142.66 L 585.33 142.68 L 585.63 144.39 L 585.93 143.69 L 586.24 144.32 L 586.54 144.11 L 586.84 145.29 L 587.14 144.36 L 587.75 146.12 L 588.05 146.24 L 588.35 144.78 L 588.65 146.52 L 589.26 145.29 L 589.56 145.08 L 590.16 145.28 L 590.46 143.45 L 590.77 143.98 L 591.07 144.78 L 591.37 144.38 L 591.67 144.21 L 591.97 143.6 L 592.28 143.64 L 592.88 144.41 L 593.18 142.75 L 593.49 143.99 L 594.09 142.77 L 594.39 143.26 L 594.69 142.63 L 595 142.7 L 595.3 143.11 L 595.9 144.72 L 595.9 144.72" clip-path="url(#p55792de455)" style="fill: none; stroke: #008000; stroke-width: 1.5; stroke-linecap: square" />
   </g>
   <g id="line2d_28">
    <path d="M 87.18 149.65 L 87.48 149.96 L 88.09 149.61 L 88.39 149.99 L 88.69 149.84 L 89.3 151.38 L 89.6 150.53 L 89.9 150.6 L 90.2 151.27 L 90.81 151.12 L 91.11 150.59 L 91.71 151.53 L 92.02 150.46 L 92.32 150.98 L 92.62 150.25 L 92.92 150.63 L 93.22 150.38 L 93.53 151.3 L 93.83 150.79 L 94.13 151.67 L 94.43 151.66 L 94.73 151.53 L 95.04 150.32 L 95.34 151.44 L 95.64 151.75 L 95.94 151.89 L 96.24 151.05 L 96.55 151.66 L 96.85 151.39 L 97.15 151.48 L 97.45 152.49 L 97.75 151.48 L 98.36 152.4 L 98.66 151.6 L 98.96 151.81 L 99.27 151.88 L 99.57 151.8 L 99.87 151.05 L 100.47 152.35 L 100.78 150.73 L 101.08 151.93 L 101.68 150.92 L 101.98 152.25 L 102.29 151.48 L 102.59 150.32 L 102.89 150.9 L 103.19 151.19 L 103.49 150.83 L 103.8 151.35 L 104.1 150.99 L 104.7 151.91 L 105.01 150.82 L 105.31 151.37 L 105.61 151.11 L 105.91 151.53 L 106.21 150.92 L 107.42 152.59 L 107.72 151.35 L 108.03 151.74 L 108.33 152.62 L 108.63 151.29 L 108.93 152.22 L 109.23 152.52 L 109.54 153.37 L 109.84 153.21 L 110.14 152.81 L 110.74 153.16 L 111.05 154.27 L 111.35 153.36 L 111.65 153.59 L 111.95 154.15 L 112.26 154.09 L 112.56 154.25 L 112.86 153.96 L 113.16 154.75 L 113.46 154.72 L 113.77 155.79 L 114.37 155.45 L 114.67 155.98 L 114.97 155.58 L 115.28 156.49 L 115.58 156.07 L 115.88 156.54 L 116.18 155.63 L 116.48 156.62 L 116.79 155.62 L 117.09 155.53 L 117.39 156.57 L 117.69 156.34 L 117.99 157.02 L 118.3 158.39 L 118.6 157.03 L 118.9 157.44 L 119.51 158.65 L 119.81 158.59 L 120.41 159.07 L 120.71 158.22 L 121.02 156.72 L 121.32 157.01 L 121.62 156.84 L 121.92 156.03 L 122.22 156.51 L 122.53 155.82 L 122.83 156.91 L 123.13 156.59 L 123.43 156.63 L 123.73 156.37 L 124.04 156.72 L 124.34 155.81 L 124.94 157.03 L 125.25 155.58 L 125.55 157.09 L 125.85 155.59 L 126.15 156.84 L 126.45 155.87 L 126.76 156.64 L 127.06 156.09 L 127.36 154.98 L 127.66 156.29 L 127.96 156.19 L 128.27 155.17 L 128.57 154.86 L 128.87 154.72 L 129.17 154.32 L 129.47 155.49 L 129.78 154.66 L 130.08 154.97 L 130.38 154.62 L 130.68 154.76 L 130.98 154.46 L 131.29 155.88 L 131.59 155.17 L 131.89 155.82 L 132.5 155.03 L 132.8 155.28 L 133.1 155.2 L 133.4 155.56 L 133.7 155.4 L 134.01 155.49 L 134.31 154.96 L 134.61 155.32 L 134.91 156.7 L 135.21 155.49 L 135.52 155.28 L 136.12 156.51 L 136.42 154.92 L 136.72 155.54 L 137.03 155.26 L 137.33 154.6 L 137.63 155.81 L 137.93 155.09 L 138.23 154.84 L 138.54 154.1 L 138.84 154.45 L 139.14 153.56 L 139.44 153.4 L 139.75 152.5 L 140.05 152.06 L 140.35 153.06 L 140.65 152.13 L 140.95 152.71 L 141.26 152.59 L 141.56 152.29 L 141.86 152.18 L 142.16 152.72 L 142.46 152.14 L 143.07 152.04 L 143.37 152.51 L 144.58 150.67 L 144.88 151.85 L 145.18 151.79 L 145.49 151.11 L 145.79 151.41 L 146.39 151.41 L 146.69 151.38 L 147 150.59 L 147.3 151.66 L 147.6 150.17 L 147.9 151.31 L 148.2 151.11 L 148.51 151.36 L 148.81 151.98 L 149.11 151.84 L 149.41 150.49 L 149.71 150.28 L 150.02 151.77 L 150.32 150.93 L 150.92 152.23 L 151.22 151.04 L 151.53 150.86 L 151.83 152.22 L 152.43 152.1 L 152.74 152.28 L 153.34 151.29 L 153.64 151.94 L 154.25 150.81 L 154.55 151.57 L 154.85 150.89 L 155.76 149.59 L 156.06 148.87 L 156.36 147.42 L 156.96 140.7 L 157.57 131.82 L 157.87 125.02 L 159.08 86.29 L 159.38 84.69 L 159.68 91.33 L 159.99 101.93 L 160.29 99.38 L 160.59 88.39 L 160.89 92.94 L 161.19 104.77 L 161.5 102.6 L 162.1 82.07 L 162.4 77.41 L 162.7 77.04 L 164.82 77.04 L 165.42 113.56 L 166.03 130.92 L 166.33 136.91 L 166.63 140.54 L 167.24 144.2 L 168.14 147.56 L 168.75 146.54 L 169.05 147.27 L 169.95 150.89 L 170.26 151.83 L 170.56 150.36 L 170.86 147.49 L 171.16 148.46 L 171.46 148.29 L 171.77 148.36 L 172.07 147.74 L 172.98 151.35 L 173.28 151.87 L 173.58 152.95 L 173.88 155.03 L 174.18 155.7 L 174.49 158.05 L 174.79 159.31 L 175.09 163.03 L 175.69 166.05 L 176 165.34 L 176.3 165.34 L 176.6 165.7 L 177.2 169.15 L 177.81 172.58 L 178.41 171.41 L 178.72 170.96 L 179.02 170.77 L 179.32 171.82 L 179.62 171.57 L 181.13 175.5 L 181.43 174.71 L 181.74 174.69 L 182.04 175.17 L 182.34 177.11 L 182.64 177.94 L 182.94 180.43 L 183.25 181.88 L 183.55 184.63 L 183.85 185.05 L 184.45 181.11 L 184.76 177.53 L 185.06 176.41 L 185.36 176.34 L 185.66 175.73 L 185.97 174.7 L 186.27 175 L 186.57 176.14 L 186.87 175.21 L 187.17 175.54 L 187.48 175.39 L 187.78 176.77 L 188.08 177.62 L 188.38 179.39 L 188.68 182.33 L 188.99 182.55 L 189.59 186.59 L 189.89 186.11 L 190.19 186.46 L 190.5 187.41 L 190.8 186.45 L 191.1 186.42 L 191.4 186.16 L 192.31 188.6 L 192.61 188.5 L 192.91 189.47 L 193.52 190.6 L 193.82 190.53 L 194.42 191.19 L 194.73 191.08 L 195.33 191.78 L 195.63 191.83 L 195.93 191.18 L 196.24 188.34 L 196.84 181.03 L 197.14 180.39 L 197.44 181.81 L 197.75 180.86 L 198.05 182.15 L 198.35 184.47 L 198.96 186.14 L 199.26 186.33 L 199.56 187.55 L 199.86 187.89 L 200.47 190.47 L 201.37 187.53 L 201.67 187.53 L 201.98 186.86 L 202.28 185.67 L 202.58 185.66 L 202.88 184.28 L 203.18 184.81 L 204.09 182.39 L 204.39 182.52 L 205 181.23 L 205.3 181.34 L 205.6 180.9 L 205.9 180.91 L 206.21 182.2 L 206.51 181.75 L 207.11 182.4 L 207.41 180.81 L 208.02 181.63 L 208.32 181.72 L 208.62 182.21 L 208.92 183.88 L 209.23 184.34 L 209.53 184.48 L 209.83 185.35 L 210.13 186.59 L 210.43 186.71 L 210.74 185.74 L 211.04 187.79 L 211.34 187.36 L 211.64 187.46 L 211.95 186.22 L 212.25 185.97 L 212.55 185.22 L 212.85 186.89 L 213.15 185.15 L 213.46 186.04 L 213.76 184.76 L 214.06 185.14 L 214.36 184.08 L 214.97 185.38 L 215.27 184.09 L 215.57 185.27 L 215.87 184.79 L 216.17 183.96 L 216.48 184.17 L 216.78 184.11 L 217.08 184.49 L 217.68 184.88 L 217.99 185.57 L 218.59 185.71 L 219.2 187.27 L 219.5 186.17 L 219.8 187.19 L 220.1 187.4 L 220.4 187.81 L 220.71 189.39 L 221.01 189.23 L 221.31 190.7 L 221.61 189.83 L 221.91 190.81 L 222.22 190.84 L 222.52 190.08 L 222.82 190.19 L 223.12 189.16 L 223.42 188.95 L 224.03 186.86 L 224.33 186.81 L 224.93 185.99 L 225.24 184.16 L 225.54 183.82 L 225.84 182.09 L 226.14 182.81 L 226.45 182.29 L 226.75 182.3 L 227.35 184.69 L 227.65 183.56 L 228.26 184.27 L 228.56 184.21 L 228.86 185.17 L 229.16 184.68 L 229.77 185.07 L 230.07 183.85 L 230.37 183.99 L 230.67 182.73 L 230.98 182.3 L 231.28 182.26 L 231.58 184.56 L 231.88 183.69 L 232.19 184.29 L 232.49 184.35 L 232.79 184.56 L 233.09 184.61 L 233.39 185.72 L 233.7 184.23 L 234 183.69 L 234.3 183.58 L 234.6 183 L 234.9 183.72 L 235.21 183.35 L 235.51 182.18 L 235.81 181.75 L 236.11 182.11 L 236.41 182.86 L 236.72 180.41 L 237.02 182.17 L 237.32 181.26 L 237.62 182.36 L 237.92 181.17 L 238.23 181.55 L 238.53 180.84 L 238.83 181.1 L 239.13 182.34 L 239.44 182 L 239.74 181.31 L 240.04 181.02 L 240.34 180.43 L 240.64 181.01 L 240.95 180.79 L 241.55 179.95 L 241.85 178.98 L 242.15 179.1 L 242.46 178.65 L 243.06 179.02 L 243.36 177.87 L 243.66 177.46 L 243.97 177.77 L 244.27 177.41 L 244.57 177.27 L 244.87 177.49 L 245.17 176.55 L 245.48 177.04 L 245.78 176.25 L 246.08 176.03 L 246.38 174.5 L 246.69 171.91 L 246.99 167.82 L 247.29 165.63 L 247.59 165.9 L 247.89 166.75 L 248.2 167.02 L 248.5 165.88 L 248.8 166.24 L 249.1 165.08 L 249.4 165.06 L 249.71 164.91 L 250.01 163.86 L 250.31 164.94 L 250.61 164.88 L 250.91 164.62 L 251.22 164.59 L 251.52 164.92 L 251.82 164.89 L 252.12 165.58 L 252.43 165.73 L 252.73 166.44 L 253.03 166.14 L 253.33 167.31 L 253.94 167.89 L 254.24 168.11 L 254.54 169.02 L 254.84 168.2 L 255.14 169.57 L 255.75 168.3 L 256.05 167.77 L 256.35 166.67 L 256.65 166.68 L 256.96 166.97 L 257.56 166.35 L 257.86 165.18 L 258.16 165.99 L 258.47 166.03 L 258.77 165.64 L 259.07 164.92 L 259.37 163.7 L 259.68 164.84 L 259.98 164.04 L 260.28 162.54 L 260.58 163.9 L 260.88 163.34 L 261.49 165.01 L 261.79 166.64 L 262.39 163.39 L 263 162.54 L 263.3 161.23 L 263.6 160.76 L 263.9 159.82 L 264.21 160.02 L 264.51 160.72 L 264.81 160.79 L 265.11 160.73 L 265.42 161.3 L 265.72 160.28 L 266.32 160.91 L 266.62 160.74 L 266.93 160.92 L 267.53 160.18 L 267.83 160.54 L 268.13 159.8 L 268.44 159.39 L 268.74 160.38 L 269.04 159.83 L 269.34 159.81 L 269.64 158.52 L 269.95 159.18 L 270.55 159.08 L 270.85 158.41 L 271.46 160.27 L 271.76 159.94 L 272.06 159.11 L 272.67 159.24 L 272.97 157.04 L 273.27 158.22 L 273.57 158.38 L 273.87 158.26 L 274.18 158.62 L 275.08 157.22 L 275.38 157.26 L 275.69 156.32 L 275.99 156.37 L 276.59 156.92 L 276.89 155.36 L 277.5 154.53 L 277.8 154.54 L 278.1 153.19 L 278.4 153.28 L 278.71 151.07 L 279.01 150.6 L 279.31 149.7 L 279.61 149.34 L 279.92 148.59 L 280.22 146.95 L 280.52 147.07 L 280.82 147.54 L 281.43 146.12 L 281.73 147.58 L 282.03 147.48 L 282.33 147.68 L 282.63 147.35 L 282.94 148.36 L 283.24 147.81 L 283.54 148.44 L 283.84 147.26 L 284.14 147.19 L 284.45 147.67 L 284.75 147.08 L 285.05 148.39 L 285.35 148.75 L 285.66 148.7 L 285.96 149.83 L 286.26 150.11 L 286.56 151.21 L 286.86 150.78 L 287.17 151.3 L 287.77 153.6 L 288.07 154.08 L 288.37 153.64 L 288.68 154.33 L 288.98 155.64 L 289.28 155.15 L 289.58 154.99 L 289.88 155.88 L 290.19 156.26 L 290.79 153.22 L 291.09 152.37 L 291.39 152.56 L 291.7 151.41 L 292.3 152.1 L 292.6 152.4 L 292.91 151.97 L 293.21 152.5 L 293.51 151.77 L 293.81 151.96 L 294.11 151.51 L 294.42 152.58 L 295.02 151.39 L 295.93 158.65 L 296.53 155.13 L 296.83 153.76 L 297.13 153.61 L 297.74 150.81 L 298.04 150.74 L 298.34 150.94 L 298.64 149.18 L 298.95 148.55 L 299.25 148.82 L 299.55 147.84 L 299.85 147.34 L 300.16 146.11 L 300.46 146.84 L 300.76 146.63 L 301.06 145.91 L 301.36 145.88 L 301.67 144.32 L 301.97 145.66 L 302.27 145.76 L 302.87 147.72 L 303.18 147.55 L 303.48 145.61 L 303.78 145.52 L 304.08 143.71 L 304.99 141.09 L 305.29 139.13 L 305.59 140.28 L 305.9 139.02 L 306.5 138.45 L 307.1 134.88 L 307.41 134.6 L 307.71 134.09 L 308.31 134.21 L 308.61 132.8 L 308.92 133.77 L 309.22 132.47 L 309.52 133.13 L 310.12 132.17 L 310.43 131.99 L 310.73 131.56 L 311.03 132.12 L 311.33 132.13 L 311.94 135.22 L 312.24 135.88 L 312.54 135.57 L 312.84 135.04 L 313.15 134.08 L 313.45 135.02 L 313.75 134.01 L 314.66 133.4 L 315.26 132.15 L 315.56 130.86 L 315.86 130.5 L 316.17 131.18 L 316.47 129.16 L 316.77 128.32 L 317.07 128.12 L 317.37 127.61 L 317.68 126.02 L 317.98 125.91 L 318.28 126.24 L 318.89 129.43 L 319.19 132.02 L 319.49 132.63 L 319.79 134.1 L 320.09 133.55 L 320.4 134.41 L 320.7 132.33 L 321 132.8 L 321.3 132.65 L 321.6 133.07 L 321.91 132.6 L 322.21 132.57 L 322.51 130.52 L 322.81 131.32 L 323.42 129.65 L 323.72 129.85 L 324.32 127.53 L 324.62 128.12 L 324.93 127.36 L 325.53 128.06 L 325.83 127.88 L 326.14 128.42 L 326.44 127.52 L 326.74 127.7 L 327.04 129.03 L 327.65 130.59 L 327.95 131.93 L 328.55 130.34 L 328.85 131.64 L 329.16 131.05 L 329.46 131.16 L 329.76 130.88 L 330.06 131.46 L 330.36 131.43 L 330.67 132.36 L 330.97 132.22 L 331.57 132.79 L 331.87 131.6 L 332.18 131.75 L 332.48 131.15 L 332.78 130.85 L 333.08 129.45 L 333.39 130.52 L 333.99 127.89 L 334.29 127.41 L 334.59 128.11 L 334.9 128.15 L 335.2 127.74 L 335.5 128.11 L 335.8 127.65 L 336.1 128.38 L 336.41 128.23 L 337.01 130.22 L 337.31 131.61 L 337.61 130.21 L 337.92 131.05 L 338.22 131.51 L 338.52 133.04 L 338.82 132.65 L 339.43 134.57 L 339.73 134.72 L 340.33 136.3 L 340.64 135.62 L 341.54 137.36 L 341.84 137.35 L 342.15 136.67 L 342.75 137.31 L 343.66 135.53 L 343.96 136.54 L 344.26 136.08 L 344.56 135.96 L 344.86 136.36 L 345.17 137.93 L 345.47 137.64 L 345.77 138.52 L 346.07 138 L 346.38 139.13 L 346.68 138.67 L 346.98 139.17 L 347.28 140.76 L 347.89 139.48 L 348.79 140.77 L 349.4 138.73 L 349.7 139.29 L 350.3 139.05 L 350.6 139.48 L 350.91 138.52 L 351.21 138.34 L 351.51 136.86 L 351.81 137.48 L 352.11 137.69 L 352.42 136.53 L 352.72 136.1 L 353.02 136.28 L 353.32 137.4 L 353.63 136.16 L 354.23 137.38 L 354.53 137.75 L 354.83 137.31 L 355.14 137.91 L 355.44 137.79 L 355.74 138.2 L 356.04 137.78 L 356.34 136.44 L 356.95 135.92 L 357.25 134.13 L 357.55 133.93 L 357.85 133.9 L 358.16 132.45 L 358.46 132.61 L 358.76 131.43 L 359.37 134.61 L 359.67 135.16 L 359.97 134.66 L 360.27 135.74 L 360.57 135.3 L 360.88 135.18 L 361.18 135.86 L 361.48 134.21 L 361.78 135.6 L 362.08 135.41 L 362.39 136.6 L 362.69 136.35 L 362.99 136.29 L 363.59 137.87 L 363.9 137.9 L 364.2 138.55 L 364.5 138.41 L 364.8 137.67 L 365.1 139.4 L 365.41 139.38 L 365.71 139.18 L 366.01 139.2 L 366.31 139.57 L 366.62 138.62 L 366.92 138.34 L 367.22 138.48 L 367.52 139.07 L 367.82 137.54 L 368.13 138.78 L 368.43 137.65 L 368.73 137.26 L 369.03 138.39 L 369.64 136.71 L 369.94 137.09 L 370.24 137.71 L 370.54 137.77 L 370.84 136.81 L 371.15 137.18 L 371.45 137.26 L 371.75 136.44 L 372.05 136.84 L 372.96 135.95 L 373.26 136.1 L 373.56 135.94 L 373.87 135.42 L 374.17 135.27 L 374.47 135.88 L 374.77 135.17 L 375.07 135.31 L 375.38 135.26 L 375.68 134.71 L 375.98 135.46 L 376.28 133.62 L 376.58 134.37 L 376.89 133.99 L 377.19 135.39 L 377.49 135.53 L 377.79 133.78 L 378.09 134.53 L 378.4 135.64 L 379 136.43 L 379.3 136.4 L 379.91 137.61 L 380.21 136.81 L 380.51 136.89 L 380.81 134.61 L 381.12 135.65 L 381.42 134.28 L 381.72 135.21 L 382.32 133.91 L 382.63 134.44 L 382.93 133.59 L 383.23 133.44 L 383.53 133.07 L 383.83 133.91 L 384.44 134.47 L 384.74 133.84 L 385.04 134.49 L 385.34 133.97 L 385.65 133.99 L 386.25 134.76 L 386.55 134.09 L 387.46 134.42 L 387.76 133.84 L 388.06 134.84 L 388.37 134.02 L 388.67 134.44 L 388.97 133.7 L 389.27 134.3 L 389.57 134.29 L 389.88 133.81 L 390.18 135.1 L 390.48 134.17 L 390.78 134.9 L 391.08 134.47 L 391.39 133.67 L 391.69 133.9 L 391.99 134.42 L 392.29 134.3 L 392.6 134.37 L 392.9 134.27 L 393.2 133.6 L 393.5 134.6 L 393.8 133.68 L 394.11 135.23 L 394.41 134.78 L 394.71 134.94 L 395.31 135.77 L 395.62 134.99 L 395.92 134.97 L 396.22 135.48 L 396.52 135.1 L 396.82 135.75 L 397.13 137.06 L 397.43 135.57 L 397.73 136.42 L 398.03 135.26 L 398.33 136.1 L 398.64 135.7 L 398.94 135.59 L 399.24 135.67 L 399.54 136.04 L 399.85 134.98 L 400.15 135.09 L 400.45 134.66 L 400.75 135.66 L 401.05 135.36 L 401.36 136.1 L 401.66 135.79 L 401.96 137 L 402.26 135.28 L 402.87 137.41 L 403.17 137.03 L 403.47 137.08 L 403.77 137.68 L 404.07 137.49 L 404.68 140.37 L 404.98 140.08 L 405.28 138.89 L 405.89 138.46 L 406.19 138.81 L 406.49 137.42 L 406.79 137.48 L 407.1 138.49 L 407.4 138.64 L 407.7 138.13 L 408 137.9 L 408.3 137.83 L 408.61 138.61 L 408.91 138.29 L 409.21 140.39 L 409.51 140.15 L 410.12 142.49 L 410.42 142.62 L 410.72 141.86 L 411.02 143.45 L 411.32 144.1 L 411.63 144.21 L 411.93 145.27 L 412.23 146.89 L 412.53 145.65 L 412.84 145.91 L 413.14 142.42 L 413.44 142.73 L 413.74 143.68 L 414.35 144.91 L 414.65 145.47 L 414.95 144.95 L 415.25 145.18 L 415.55 142.91 L 415.86 143.57 L 416.16 142.68 L 416.46 142.63 L 416.76 142.16 L 417.06 141.03 L 417.37 140.67 L 417.67 141.07 L 417.97 140.93 L 418.27 140.48 L 418.57 142.06 L 418.88 142.31 L 419.18 140.14 L 419.48 140.69 L 419.78 141.47 L 420.09 140.13 L 420.39 139.42 L 420.69 139.27 L 420.99 139.4 L 421.29 139.87 L 421.6 139.99 L 421.9 141 L 422.2 140.96 L 422.5 141.54 L 422.8 141.74 L 423.11 142.96 L 423.41 143.04 L 423.71 143.58 L 424.01 144.4 L 424.31 144.19 L 424.62 144.42 L 425.22 144.49 L 425.83 143.63 L 426.13 143.8 L 426.43 142.4 L 426.73 143.3 L 427.34 140.38 L 428.24 138.15 L 428.54 136.75 L 428.85 136.82 L 429.15 134.98 L 429.45 134.58 L 429.75 135.82 L 430.05 135.54 L 430.36 137.01 L 430.66 137.55 L 430.96 136.31 L 431.26 134.23 L 431.56 133.53 L 431.87 133.89 L 432.17 132.73 L 432.47 132.71 L 433.08 134.32 L 433.68 133.36 L 433.98 133.73 L 434.28 134.89 L 434.59 135.23 L 434.89 136.01 L 435.19 137.62 L 435.79 137.24 L 436.1 136.62 L 436.4 137.12 L 436.7 134.69 L 437 134.61 L 437.3 134.29 L 437.91 134.34 L 438.21 133.2 L 438.51 132.56 L 438.81 131.62 L 439.12 131.51 L 439.42 131.8 L 440.02 130.41 L 440.63 130.81 L 440.93 130.98 L 441.23 130.31 L 441.53 130.41 L 441.84 129.43 L 442.14 129.64 L 442.44 130.99 L 442.74 128.79 L 443.04 129.65 L 443.35 129.8 L 443.95 128.73 L 444.25 128.83 L 444.86 128.22 L 445.16 126.95 L 445.46 127.58 L 445.76 127.1 L 446.07 127.18 L 446.37 127.51 L 446.97 127.77 L 447.27 127.28 L 447.58 128.32 L 448.18 128.97 L 448.48 129.23 L 448.78 128.51 L 449.09 128.6 L 449.39 129.25 L 449.69 128.17 L 449.99 129.13 L 450.29 128.63 L 450.6 128.61 L 450.9 127.76 L 451.8 128.85 L 452.11 128.6 L 452.41 127.72 L 452.71 127.36 L 453.01 126.71 L 453.32 127.08 L 453.62 126.47 L 454.22 128.57 L 454.83 127.83 L 455.13 128.68 L 455.73 128.95 L 456.03 130.3 L 456.34 129.72 L 456.64 128.78 L 456.94 129.91 L 457.24 129.76 L 457.54 128.41 L 457.85 127.77 L 459.05 126.57 L 459.96 124.56 L 460.87 118.27 L 461.17 117.45 L 461.47 118.1 L 461.77 119.83 L 462.08 120.18 L 462.38 120.99 L 462.68 123.71 L 463.28 125.92 L 463.59 127.74 L 463.89 128.75 L 464.19 127.41 L 464.49 124.96 L 464.79 124.98 L 465.4 124.08 L 466 125.03 L 466.31 124.01 L 466.61 123.83 L 466.91 126.14 L 467.21 125.4 L 467.51 125.59 L 467.82 126.98 L 468.12 127.56 L 468.42 127.24 L 468.72 128.33 L 469.02 127.92 L 469.33 127.24 L 469.93 124.38 L 470.23 121.73 L 470.84 119.55 L 471.14 120.1 L 471.44 117.16 L 471.74 117.89 L 472.04 117.42 L 472.35 117.68 L 472.65 118.44 L 472.95 119.56 L 473.56 123.34 L 474.16 125.96 L 474.46 126.93 L 474.76 127.38 L 475.07 128.23 L 475.37 127.83 L 475.97 128.23 L 476.27 127.41 L 476.58 126.99 L 477.48 131.95 L 477.78 130.71 L 478.09 131.91 L 478.39 131.64 L 478.69 132.32 L 478.99 132.01 L 479.3 131.42 L 479.6 131.36 L 480.2 131.57 L 480.5 131.19 L 480.81 131.59 L 481.11 132.78 L 481.41 131.29 L 481.71 132.65 L 482.01 132.32 L 482.62 133.87 L 482.92 133.69 L 483.22 134.44 L 483.52 133.47 L 483.83 137.22 L 484.13 139.58 L 484.43 140.93 L 484.73 140.57 L 485.03 138.96 L 485.34 140.07 L 485.94 143.68 L 486.55 144.06 L 486.85 143.37 L 487.15 145.12 L 487.45 145.64 L 487.75 145.26 L 488.06 145.7 L 488.36 145.12 L 488.66 146.06 L 488.96 146.63 L 489.26 145.15 L 489.57 144.76 L 490.17 141.19 L 490.47 141.27 L 490.77 138.84 L 491.38 140.68 L 491.68 141.53 L 491.98 141.79 L 492.28 142.26 L 492.59 142.13 L 492.89 142.33 L 493.19 143.54 L 493.49 144 L 493.8 144.69 L 494.4 146.66 L 494.7 145.69 L 495 145.72 L 495.31 145.32 L 495.61 146.32 L 495.91 146.52 L 496.21 147.47 L 496.51 145.65 L 496.82 146.17 L 497.12 147.08 L 497.42 146.47 L 497.72 146.42 L 498.02 147.51 L 498.93 144.39 L 499.23 144.55 L 499.54 143.81 L 499.84 142.51 L 500.14 142.34 L 500.44 142.77 L 500.74 142.41 L 501.05 141.69 L 501.35 142.44 L 501.65 142.49 L 501.95 141.29 L 502.25 142.16 L 502.56 142.62 L 502.86 142.16 L 503.16 141.38 L 503.46 142.45 L 504.07 143.6 L 504.37 141.56 L 504.67 144.08 L 504.97 141.99 L 505.27 143.04 L 505.58 143.12 L 506.18 142.62 L 506.48 142.06 L 506.79 143.17 L 507.09 142.6 L 507.39 141.78 L 507.69 144.82 L 507.99 143.82 L 508.3 144.57 L 508.6 143.25 L 508.9 144.69 L 509.2 144.9 L 509.5 145.59 L 509.81 145.57 L 510.11 145.75 L 510.41 147.13 L 510.71 146.75 L 511.32 149.02 L 511.62 148.25 L 511.92 148.52 L 512.22 148.37 L 512.52 149.29 L 512.83 148.76 L 513.13 147.91 L 513.43 148.53 L 513.73 147.39 L 514.04 147.57 L 514.34 148.18 L 514.64 146.96 L 514.94 147.66 L 515.24 147.55 L 515.85 150.05 L 516.15 149.22 L 516.45 149.63 L 516.75 148.68 L 517.36 147.79 L 517.66 148.89 L 517.96 149.03 L 518.57 146.66 L 518.87 147.07 L 519.17 146.16 L 519.47 146.42 L 519.78 145.79 L 520.08 145.43 L 520.38 145.26 L 520.68 144.53 L 520.98 144.93 L 521.29 144.52 L 521.59 145.51 L 521.89 145.28 L 522.19 146.27 L 522.49 146.14 L 522.8 146.83 L 523.1 146.62 L 523.4 145.21 L 523.7 145.13 L 524 144.66 L 524.31 145.17 L 524.61 145.28 L 525.21 143.81 L 525.51 144.79 L 525.82 143.18 L 526.12 144.81 L 526.72 142.5 L 527.03 145.43 L 527.33 145.09 L 527.63 143.93 L 527.93 144.83 L 528.23 144.88 L 528.54 145.3 L 528.84 144.7 L 529.44 146.01 L 529.74 145.83 L 530.05 146.31 L 530.35 145.65 L 530.65 146.83 L 530.95 145.12 L 531.25 145.6 L 531.56 144.14 L 531.86 144.1 L 532.16 145.09 L 532.46 143.46 L 532.77 143.85 L 533.37 142.2 L 534.28 143.05 L 534.58 144.02 L 534.88 144.27 L 535.18 143.91 L 535.48 144.03 L 535.79 144.82 L 536.09 144.46 L 536.39 144.92 L 536.69 145.65 L 536.99 144.52 L 537.3 143.89 L 537.6 143.67 L 537.9 143.15 L 538.5 142.77 L 538.81 142.94 L 539.11 142.77 L 539.41 143.26 L 539.71 142.49 L 540.02 142.45 L 540.32 141.74 L 540.62 143.14 L 540.92 142.47 L 541.22 143.17 L 541.53 142.63 L 541.83 143 L 542.13 142.07 L 542.43 142.59 L 542.73 143.66 L 543.04 141.5 L 543.34 142.72 L 543.64 142.93 L 543.94 142.16 L 544.55 142.47 L 544.85 141.35 L 545.15 141.72 L 545.45 140.56 L 546.06 139.79 L 546.66 138.5 L 546.96 137.76 L 547.27 136.02 L 547.57 137.89 L 547.87 137.44 L 548.17 137.2 L 548.47 136.6 L 548.78 136.75 L 549.08 137.1 L 549.38 137.03 L 549.68 135.87 L 550.29 138.41 L 550.59 135.78 L 550.89 137.35 L 551.49 136.74 L 551.8 137.56 L 552.1 136.2 L 552.7 138.47 L 553.01 137.95 L 553.31 138.23 L 553.61 138.93 L 553.91 138.87 L 554.21 140.17 L 554.52 139.01 L 554.82 140.2 L 555.12 139.23 L 555.42 140.57 L 555.72 140.55 L 556.03 139.57 L 556.33 141.41 L 556.63 141.22 L 556.93 141.98 L 557.23 143.68 L 557.54 142.81 L 557.84 143.45 L 558.14 144.81 L 558.44 143.32 L 558.74 143.35 L 559.05 141.92 L 559.35 141.26 L 559.65 141.81 L 559.95 142.63 L 560.26 142.57 L 560.56 142.15 L 561.16 142.45 L 561.46 142.39 L 561.77 143.98 L 562.07 143.12 L 562.37 142.64 L 562.67 142.93 L 562.97 143.52 L 563.28 143.4 L 563.88 142.52 L 564.18 142.83 L 564.48 141.81 L 564.79 141.94 L 565.09 143.03 L 565.39 142.25 L 565.99 143.04 L 566.6 142.22 L 566.9 143.47 L 567.51 142.29 L 567.81 143 L 568.11 142.92 L 568.41 142.57 L 568.71 143.69 L 569.02 144.16 L 569.32 143.76 L 569.62 145.08 L 570.22 145.54 L 570.53 145.17 L 570.83 146.19 L 571.43 146.93 L 571.73 146.47 L 572.04 147.68 L 572.34 146.88 L 572.94 148.73 L 573.25 147.76 L 573.55 147.86 L 573.85 148.74 L 574.15 147.93 L 574.45 147.98 L 574.76 148.19 L 575.06 147.29 L 575.36 144.13 L 575.66 143.53 L 575.96 142.58 L 576.27 142.23 L 576.87 141.76 L 577.17 142.09 L 577.47 141.2 L 577.78 142.06 L 578.08 142.52 L 578.38 142.2 L 578.68 142.98 L 578.98 144.11 L 579.29 143.76 L 579.59 143.63 L 579.89 144.35 L 580.19 144.28 L 580.5 145.34 L 580.8 145.68 L 581.1 144.15 L 581.4 143.88 L 581.7 144.01 L 582.01 142.51 L 582.31 142.3 L 582.61 141.48 L 583.21 141.46 L 583.52 143.02 L 583.82 142.02 L 584.42 142.75 L 585.33 144.36 L 585.63 145.77 L 585.93 145.18 L 586.24 146.25 L 586.54 146.02 L 586.84 146.6 L 587.14 145.9 L 587.44 147.01 L 588.05 147.75 L 588.35 146.87 L 588.65 148.2 L 588.95 147.22 L 589.26 146.89 L 589.86 146.58 L 590.16 146.72 L 590.46 145.61 L 590.77 145.59 L 591.07 146.09 L 591.37 145.92 L 591.97 145.33 L 592.28 145.08 L 592.88 145.86 L 593.18 144.45 L 593.49 145.65 L 593.79 145.08 L 594.09 144.18 L 594.39 144.95 L 594.69 143.98 L 595 144.07 L 595.3 144.55 L 595.9 145.8 L 595.9 145.8" clip-path="url(#p55792de455)" style="fill: none; stroke: #ff0000; stroke-width: 1.5; stroke-linecap: square" />
   </g>
   <g id="line2d_29">
    <path d="M 596.51 145.79 L 650.88 157.67 L 706.77 146.89 L 817.03 145.98" clip-path="url(#p55792de455)" style="fill: none; stroke: #0000ff; stroke-width: 1.5; stroke-linecap: square" />
   </g>
   <g id="patch_3">
    <path d="M 51.48 199.8 L 51.48 50.76" style="fill: none; stroke: #000000; stroke-width: 0.8; stroke-linejoin: miter; stroke-linecap: square" />
   </g>
   <g id="patch_4">
    <path d="M 853.56 199.8 L 853.56 50.76" style="fill: none; stroke: #000000; stroke-width: 0.8; stroke-linejoin: miter; stroke-linecap: square" />
   </g>
   <g id="patch_5">
    <path d="M 51.48 199.8 L 853.56 199.8" style="fill: none; stroke: #000000; stroke-width: 0.8; stroke-linejoin: miter; stroke-linecap: square" />
   </g>
   <g id="patch_6">
    <path d="M 51.48 50.76 L 853.56 50.76" style="fill: none; stroke: #000000; stroke-width: 0.8; stroke-linejoin: miter; stroke-linecap: square" />
   </g>
   <g id="text_16">
    <text style="font-size: 12px; font-family: 'DejaVu Sans', 'Liberation Sans', sans-serif; text-anchor: middle" x="452.16" y="44.4" transform="rotate(-0 452.16 44.4)">powered by Predict-Price.com and MagicalPrediction.com and MagicalAnalysis.com</text>
   </g>
   <g id="legend_1">
    <g id="patch_7">
     <path d="M 58.12 148.88 L 152.22 148.88 Q 154.22 148.88 154.22 146.88 L 154.22 57.4 Q 154.22 55.4 152.22 55.4 L 58.12 55.4 Q 56.12 55.4 56.12 57.4 L 56.12 146.88 Q 56.12 148.88 58.12 148.88 z" style="fill: #ffffff; opacity: 0.8; stroke: #cccccc; stroke-linejoin: miter" />
    </g>
    <g id="line2d_30">
     <path d="M 60.48 64.08 L 69.84 64.08 L 79.92 64.08" style="fill: none; stroke: #008000; stroke-width: 1.5; stroke-linecap: square" />
    </g>
    <g id="text_17">
     <text style="font-size: 10px; font-family: 'DejaVu Sans', 'Liberation Sans', sans-serif; text-anchor: start" x="88.12" y="67.32" transform="rotate(-0 88.12 67.32)">High</text>
    </g>
    <g id="line2d_31">
     <path d="M 60.48 79.2 L 69.84 79.2 L 79.92 79.2" style="fill: none; stroke: #ff0000; stroke-width: 1.5; stroke-linecap: square" />
    </g>
    <g id="text_18">
     <text style="font-size: 10px; font-family: 'DejaVu Sans', 'Liberation Sans', sans-serif; text-anchor: start" x="88.12" y="82.4" transform="rotate(-0 88.12 82.4)">Low</text>
    </g>
    <g id="line2d_32">
     <path d="M 60.48 94.32 L 69.84 94.32 L 79.92 94.32" style="fill: none; stroke: #0000ff; stroke-width: 1.5; stroke-linecap: square" />
    </g>
    <g id="text_19">
     <text style="font-size: 10px; font-family: 'DejaVu Sans', 'Liberation Sans', sans-serif; text-anchor: start" x="88.12" y="97.48" transform="rotate(-0 88.12 97.48)">Close</text>
    </g>
    <g id="patch_8">
     <path d="M 60.48 112.32 L 79.92 112.32 L 79.92 105.84 L 60.48 105.84 z" style="fill: #008000; fill-opacity: 0.25" />
    </g>
    <g id="text_20">
     <text style="font-size: 10px; font-family: 'DejaVu Sans', 'Liberation Sans', sans-serif; text-anchor: start" x="88.12" y="112.56" transform="rotate(-0 88.12 112.56)">High Range</text>
    </g>
    <g id="patch_9">
     <path d="M 60.48 127.44 L 79.92 127.44 L 79.92 120.96 L 60.48 120.96 z" style="fill: #ff0000; fill-opacity: 0.25" />
    </g>
    <g id="text_21">
     <text style="font-size: 10px; font-family: 'DejaVu Sans', 'Liberation Sans', sans-serif; text-anchor: start" x="88.12" y="127.64" transform="rotate(-0 88.12 127.64)">Low Range</text>
    </g>
    <g id="patch_10">
     <path d="M 60.48 142.56 L 79.92 142.56 L 79.92 136.08 L 60.48 136.08 z" style="fill: #0000ff; fill-opacity: 0.5" />
    </g>
    <g id="text_22">
     <text style="font-size: 10px; font-family: 'DejaVu Sans', 'Liberation Sans', sans-serif; text-anchor: start" x="88.12" y="142.72" transform="rotate(-0 88.12 142.72)">Close Range</text>
    </g>
   </g>
  </g>
  <g id="axes_2">
   <g id="patch_11">
    <path d="M 51.12 390.24 L 853.2 390.24 L 853.2 241.2 L 51.12 241.2 z" style="fill: #ffffff" />
   </g>
   <g id="FillBetweenPolyCollection_4">
    <g clip-path="url(#pa25c2a1d57)">
     <path d="M 87.54 -95.72 L 87.54 -95.72 L 267.3 -94.56 L 452.05 -94.53 L 816.55 -109.34 L 816.55 -138.68 L 816.55 -138.68 L 452.05 -183.41 L 267.3 -116.38 L 87.54 -95.72 z" transform="translate(0 432)" style="fill: #008000; fill-opacity: 0.25" /></g>
   </g>
   <g id="FillBetweenPolyCollection_5">
    <g clip-path="url(#pa25c2a1d57)">
     <path d="M 87.54 -95.72 L 87.54 -95.72 L 267.3 -75.07 L 452.05 -49.21 L 816.55 -81.63 L 816.55 -95.52 L 816.55 -95.52 L 452.05 -81.57 L 267.3 -82.86 L 87.54 -95.72 z" transform="translate(0 432)" style="fill: #ff0000; fill-opacity: 0.25" /></g>
   </g>
   <g id="FillBetweenPolyCollection_6">
    <g clip-path="url(#pa25c2a1d57)">
     <path d="M 87.54 -95.72 L 87.54 -95.72 L 267.3 -82.86 L 452.05 -81.57 L 816.55 -95.52 L 816.55 -109.34 L 816.55 -109.34 L 452.05 -94.53 L 267.3 -94.56 L 87.54 -95.72 z" transform="translate(0 432)" style="fill: #0000ff; fill-opacity: 0.5" /></g>
   </g>
   <g id="matplotlib.axis_3">
    <g id="xtick_8">
     <g id="line2d_33">
      <path d="M 128.52 390.6 L 128.52 241.56" clip-path="url(#pa25c2a1d57)" style="fill: none; stroke: #b0b0b0; stroke-width: 0.8; stroke-linecap: square" />
     </g>
     <g id="line2d_34">
      <g>
       <path d="M 128.52 390.6 L 128.52 394.2" style="stroke: #000000; stroke-width: 0.8;stroke: #000000; stroke-width: 0.8" /></g>
     </g>
     <g id="text_23">
      <text style="font-size: 10px; font-family: 'DejaVu Sans', 'Liberation Sans', sans-serif; text-anchor: middle" x="128.48904" y="405.16" transform="rotate(-0 128.48904 405.16)">2026-04</text>
     </g>
    </g>
    <g id="xtick_9">
     <g id="line2d_35">
      <path d="M 219.96 390.6 L 219.96 241.56" clip-path="url(#pa25c2a1d57)" style="fill: none; stroke: #b0b0b0; stroke-width: 0.8; stroke-linecap: square" />
     </g>
     <g id="line2d_36">
      <g>
       <path d="M 219.96 390.6 L 219.96 394.2" style="stroke: #000000; stroke-width: 0.8;stroke: #000000; stroke-width: 0.8" /></g>
     </g>
     <g id="text_24">
      <text style="font-size: 10px; font-family: 'DejaVu Sans', 'Liberation Sans', sans-serif; text-anchor: middle" x="219.36528" y="405.16" transform="rotate(-0 219.36528 405.16)">2026-07</text>
     </g>
    </g>
    <g id="xtick_10">
     <g id="line2d_37">
      <path d="M 311.4 390.6 L 311.4 241.56" clip-path="url(#pa25c2a1d57)" style="fill: none; stroke: #b0b0b0; stroke-width: 0.8; stroke-linecap: square" />
     </g>
     <g id="line2d_38">
      <g>
       <path d="M 311.4 390.6 L 311.4 394.2" style="stroke: #000000; stroke-width: 0.8;stroke: #000000; stroke-width: 0.8" /></g>
     </g>
     <g id="text_25">
      <text style="font-size: 10px; font-family: 'DejaVu Sans', 'Liberation Sans', sans-serif; text-anchor: middle" x="311.24016" y="405.16" transform="rotate(-0 311.24016 405.16)">2026-10</text>
     </g>
    </g>
    <g id="xtick_11">
     <g id="line2d_39">
      <path d="M 403.56 390.6 L 403.56 241.56" clip-path="url(#pa25c2a1d57)" style="fill: none; stroke: #b0b0b0; stroke-width: 0.8; stroke-linecap: square" />
     </g>
     <g id="line2d_40">
      <g>
       <path d="M 403.56 390.6 L 403.56 394.2" style="stroke: #000000; stroke-width: 0.8;stroke: #000000; stroke-width: 0.8" /></g>
     </g>
     <g id="text_26">
      <text style="font-size: 10px; font-family: 'DejaVu Sans', 'Liberation Sans', sans-serif; text-anchor: middle" x="403.11504" y="405.16" transform="rotate(-0 403.11504 405.16)">2027-01</text>
     </g>
    </g>
    <g id="xtick_12">
     <g id="line2d_41">
      <path d="M 493.56 390.6 L 493.56 241.56" clip-path="url(#pa25c2a1d57)" style="fill: none; stroke: #b0b0b0; stroke-width: 0.8; stroke-linecap: square" />
     </g>
     <g id="line2d_42">
      <g>
       <path d="M 493.56 390.6 L 493.56 394.2" style="stroke: #000000; stroke-width: 0.8;stroke: #000000; stroke-width: 0.8" /></g>
     </g>
     <g id="text_27">
      <text style="font-size: 10px; font-family: 'DejaVu Sans', 'Liberation Sans', sans-serif; text-anchor: middle" x="492.99264" y="405.16" transform="rotate(-0 492.99264 405.16)">2027-04</text>
     </g>
    </g>
    <g id="xtick_13">
     <g id="line2d_43">
      <path d="M 584.28 390.6 L 584.28 241.56" clip-path="url(#pa25c2a1d57)" style="fill: none; stroke: #b0b0b0; stroke-width: 0.8; stroke-linecap: square" />
     </g>
     <g id="line2d_44">
      <g>
       <path d="M 584.28 390.6 L 584.28 394.2" style="stroke: #000000; stroke-width: 0.8;stroke: #000000; stroke-width: 0.8" /></g>
     </g>
     <g id="text_28">
      <text style="font-size: 10px; font-family: 'DejaVu Sans', 'Liberation Sans', sans-serif; text-anchor: middle" x="583.86888" y="405.16" transform="rotate(-0 583.86888 405.16)">2027-07</text>
     </g>
    </g>
    <g id="xtick_14">
     <g id="line2d_45">
      <path d="M 676.44 390.6 L 676.44 241.56" clip-path="url(#pa25c2a1d57)" style="fill: none; stroke: #b0b0b0; stroke-width: 0.8; stroke-linecap: square" />
     </g>
     <g id="line2d_46">
      <g>
       <path d="M 676.44 390.6 L 676.44 394.2" style="stroke: #000000; stroke-width: 0.8;stroke: #000000; stroke-width: 0.8" /></g>
     </g>
     <g id="text_29">
      <text style="font-size: 10px; font-family: 'DejaVu Sans', 'Liberation Sans', sans-serif; text-anchor: middle" x="675.74376" y="405.16" transform="rotate(-0 675.74376 405.16)">2027-10</text>
     </g>
    </g>
    <g id="xtick_15">
     <g id="line2d_47">
      <path d="M 767.88 390.6 L 767.88 241.56" clip-path="url(#pa25c2a1d57)" style="fill: none; stroke: #b0b0b0; stroke-width: 0.8; stroke-linecap: square" />
     </g>
     <g id="line2d_48">
      <g>
       <path d="M 767.88 390.6 L 767.88 394.2" style="stroke: #000000; stroke-width: 0.8;stroke: #000000; stroke-width: 0.8" /></g>
     </g>
     <g id="text_30">
      <text style="font-size: 10px; font-family: 'DejaVu Sans', 'Liberation Sans', sans-serif; text-anchor: middle" x="767.61864" y="405.16" transform="rotate(-0 767.61864 405.16)">2028-01</text>
     </g>
    </g>
    <g id="text_31">
     <text style="font-size: 10px; font-family: 'DejaVu Sans', 'Liberation Sans', sans-serif; text-anchor: middle" x="452.16" y="419.24" transform="rotate(-0 452.16 419.24)">Date</text>
    </g>
   </g>
   <g id="matplotlib.axis_4">
    <g id="ytick_7">
     <g id="line2d_49">
      <path d="M 51.48 378.36 L 853.56 378.36" clip-path="url(#pa25c2a1d57)" style="fill: none; stroke: #b0b0b0; stroke-width: 0.8; stroke-linecap: square" />
     </g>
     <g id="line2d_50">
      <g>
       <path d="M 51.48 378.36 L 47.88 378.36" style="stroke: #000000; stroke-width: 0.8;stroke: #000000; stroke-width: 0.8" /></g>
     </g>
     <g id="text_32">
      <text style="font-size: 10px; font-family: 'DejaVu Sans', 'Liberation Sans', sans-serif; text-anchor: end" x="44.12" y="381.96" transform="rotate(-0 44.12 381.96)">60</text>
     </g>
    </g>
    <g id="ytick_8">
     <g id="line2d_51">
      <path d="M 51.48 351 L 853.56 351" clip-path="url(#pa25c2a1d57)" style="fill: none; stroke: #b0b0b0; stroke-width: 0.8; stroke-linecap: square" />
     </g>
     <g id="line2d_52">
      <g>
       <path d="M 51.48 351 L 47.88 351" style="stroke: #000000; stroke-width: 0.8;stroke: #000000; stroke-width: 0.8" /></g>
     </g>
     <g id="text_33">
      <text style="font-size: 10px; font-family: 'DejaVu Sans', 'Liberation Sans', sans-serif; text-anchor: end" x="44.12" y="354.6" transform="rotate(-0 44.12 354.6)">80</text>
     </g>
    </g>
    <g id="ytick_9">
     <g id="line2d_53">
      <path d="M 51.48 323.64 L 853.56 323.64" clip-path="url(#pa25c2a1d57)" style="fill: none; stroke: #b0b0b0; stroke-width: 0.8; stroke-linecap: square" />
     </g>
     <g id="line2d_54">
      <g>
       <path d="M 51.48 323.64 L 47.88 323.64" style="stroke: #000000; stroke-width: 0.8;stroke: #000000; stroke-width: 0.8" /></g>
     </g>
     <g id="text_34">
      <text style="font-size: 10px; font-family: 'DejaVu Sans', 'Liberation Sans', sans-serif; text-anchor: end" x="44.12" y="327.24" transform="rotate(-0 44.12 327.24)">100</text>
     </g>
    </g>
    <g id="ytick_10">
     <g id="line2d_55">
      <path d="M 51.48 296.28 L 853.56 296.28" clip-path="url(#pa25c2a1d57)" style="fill: none; stroke: #b0b0b0; stroke-width: 0.8; stroke-linecap: square" />
     </g>
     <g id="line2d_56">
      <g>
       <path d="M 51.48 296.28 L 47.88 296.28" style="stroke: #000000; stroke-width: 0.8;stroke: #000000; stroke-width: 0.8" /></g>
     </g>
     <g id="text_35">
      <text style="font-size: 10px; font-family: 'DejaVu Sans', 'Liberation Sans', sans-serif; text-anchor: end" x="44.12" y="299.88" transform="rotate(-0 44.12 299.88)">120</text>
     </g>
    </g>
    <g id="ytick_11">
     <g id="line2d_57">
      <path d="M 51.48 268.92 L 853.56 268.92" clip-path="url(#pa25c2a1d57)" style="fill: none; stroke: #b0b0b0; stroke-width: 0.8; stroke-linecap: square" />
     </g>
     <g id="line2d_58">
      <g>
       <path d="M 51.48 268.92 L 47.88 268.92" style="stroke: #000000; stroke-width: 0.8;stroke: #000000; stroke-width: 0.8" /></g>
     </g>
     <g id="text_36">
      <text style="font-size: 10px; font-family: 'DejaVu Sans', 'Liberation Sans', sans-serif; text-anchor: end" x="44.12" y="272.52" transform="rotate(-0 44.12 272.52)">140</text>
     </g>
    </g>
    <g id="text_37">
     <text style="font-size: 10px; font-family: 'DejaVu Sans', 'Liberation Sans', sans-serif; text-anchor: middle" x="18.97" y="317.52" transform="rotate(-90 18.97 317.52)">Price</text>
    </g>
   </g>
   <g id="line2d_59" />
   <g id="line2d_60" />
   <g id="line2d_61">
    <path d="M 87.54 336.28 L 267.3 349.14 L 452.05 337.47 L 816.55 336.48" clip-path="url(#pa25c2a1d57)" style="fill: none; stroke: #0000ff; stroke-width: 1.5; stroke-linecap: square" />
   </g>
   <g id="patch_12">
    <path d="M 51.48 390.6 L 51.48 241.56" style="fill: none; stroke: #000000; stroke-width: 0.8; stroke-linejoin: miter; stroke-linecap: square" />
   </g>
   <g id="patch_13">
    <path d="M 853.56 390.6 L 853.56 241.56" style="fill: none; stroke: #000000; stroke-width: 0.8; stroke-linejoin: miter; stroke-linecap: square" />
   </g>
   <g id="patch_14">
    <path d="M 51.48 390.6 L 853.56 390.6" style="fill: none; stroke: #000000; stroke-width: 0.8; stroke-linejoin: miter; stroke-linecap: square" />
   </g>
   <g id="patch_15">
    <path d="M 51.48 241.56 L 853.56 241.56" style="fill: none; stroke: #000000; stroke-width: 0.8; stroke-linejoin: miter; stroke-linecap: square" />
   </g>
   <g id="legend_2">
    <g id="patch_16">
     <path d="M 58.12 339.68 L 152.22 339.68 Q 154.22 339.68 154.22 337.68 L 154.22 248.2 Q 154.22 246.2 152.22 246.2 L 58.12 246.2 Q 56.12 246.2 56.12 248.2 L 56.12 337.68 Q 56.12 339.68 58.12 339.68 z" style="fill: #ffffff; opacity: 0.8; stroke: #cccccc; stroke-linejoin: miter" />
    </g>
    <g id="line2d_62">
     <path d="M 60.48 254.88 L 69.84 254.88 L 79.92 254.88" style="fill: none; stroke: #008000; stroke-width: 1.5; stroke-linecap: square" />
    </g>
    <g id="text_38">
     <text style="font-size: 10px; font-family: 'DejaVu Sans', 'Liberation Sans', sans-serif; text-anchor: start" x="88.12" y="258.12" transform="rotate(-0 88.12 258.12)">High</text>
    </g>
    <g id="line2d_63">
     <path d="M 60.48 270 L 69.84 270 L 79.92 270" style="fill: none; stroke: #ff0000; stroke-width: 1.5; stroke-linecap: square" />
    </g>
    <g id="text_39">
     <text style="font-size: 10px; font-family: 'DejaVu Sans', 'Liberation Sans', sans-serif; text-anchor: start" x="88.12" y="273.2" transform="rotate(-0 88.12 273.2)">Low</text>
    </g>
    <g id="line2d_64">
     <path d="M 60.48 285.12 L 69.84 285.12 L 79.92 285.12" style="fill: none; stroke: #0000ff; stroke-width: 1.5; stroke-linecap: square" />
    </g>
    <g id="text_40">
     <text style="font-size: 10px; font-family: 'DejaVu Sans', 'Liberation Sans', sans-serif; text-anchor: start" x="88.12" y="288.28" transform="rotate(-0 88.12 288.28)">Close</text>
    </g>
    <g id="patch_17">
     <path d="M 60.48 303.12 L 79.92 303.12 L 79.92 296.64 L 60.48 296.64 z" style="fill: #008000; fill-opacity: 0.25" />
    </g>
    <g id="text_41">
     <text style="font-size: 10px; font-family: 'DejaVu Sans', 'Liberation Sans', sans-serif; text-anchor: start" x="88.12" y="303.36" transform="rotate(-0 88.12 303.36)">High Range</text>
    </g>
    <g id="patch_18">
     <path d="M 60.48 318.24 L 79.92 318.24 L 79.92 311.76 L 60.48 311.76 z" style="fill: #ff0000; fill-opacity: 0.25" />
    </g>
    <g id="text_42">
     <text style="font-size: 10px; font-family: 'DejaVu Sans', 'Liberation Sans', sans-serif; text-anchor: start" x="88.12" y="318.44" transform="rotate(-0 88.12 318.44)">Low Range</text>
    </g>
    <g id="patch_19">
     <path d="M 60.48 333.36 L 79.92 333.36 L 79.92 326.16 L 60.48 326.16 z" style="fill: #0000ff; fill-opacity: 0.5" />
    </g>
    <g id="text_43">
     <text style="font-size: 10px; font-family: 'DejaVu Sans', 'Liberation Sans', sans-serif; text-anchor: start" x="88.12" y="333.52" transform="rotate(-0 88.12 333.52)">Close Range</text>
    </g>
   </g>
  </g>
  <g id="text_44">
   <text style="font-size: 12px; font-family: 'DejaVu Sans', 'Liberation Sans', sans-serif; text-anchor: middle" x="432" y="18.72" transform="rotate(-0 432 18.72)">EUR RUB (EURRUB=X) long term price prediction : 2026,2027,2028 (Feb 19)</text>
  </g>
  <g id="text_45">
   <text style="font-size: 30px; font-family: 'DejaVu Sans', 'Liberation Sans', sans-serif; text-anchor: start; fill: #808080; opacity: 0.1" x="156.96" y="116.424" transform="rotate(-0 156.96 116.424)">Predict-Price.com</text>
  </g>
  <g id="text_46">
   <text style="font-size: 30px; font-family: 'DejaVu Sans', 'Liberation Sans', sans-serif; text-anchor: start; fill: #808080; opacity: 0.1" x="446.4" y="116.424" transform="rotate(-0 446.4 116.424)">Predict-Price.com</text>
  </g>
  <g id="text_47">
   <text style="font-size: 30px; font-family: 'DejaVu Sans', 'Liberation Sans', sans-serif; text-anchor: start; fill: #808080; opacity: 0.1" x="156.96" y="224.424" transform="rotate(-0 156.96 224.424)">Predict-Price.com</text>
  </g>
  <g id="text_48">
   <text style="font-size: 30px; font-family: 'DejaVu Sans', 'Liberation Sans', sans-serif; text-anchor: start; fill: #808080; opacity: 0.1" x="446.4" y="224.424" transform="rotate(-0 446.4 224.424)">Predict-Price.com</text>
  </g>
  <g id="text_49">
   <text style="font-size: 30px; font-family: 'DejaVu Sans', 'Liberation Sans', sans-serif; text-anchor: start; fill: #808080; opacity: 0.1" x="156.96" y="332.424" transform="rotate(-0 156.96 332.424)">Predict-Price.com</text>
  </g>
  <g id="text_50">
   <text style="font-size: 30px; font-family: 'DejaVu Sans', 'Liberation Sans', sans-serif; text-anchor: start; fill: #808080; opacity: 0.1" x="446.4" y="332.424" transform="rotate(-0 446.4 332.424)">Predict-Price.com</text>
  </g>
 </g>
 <defs>
  <clipPath id="p55792de455">
   <rect x="51.12" y="50.4" width="802.08" height="149.04" />
  </clipPath>
  <clipPath id="pa25c2a1d57">
   <rect x="51.12" y="241.2" width="802.08" height="149.04" />
  </clipPath>
 </defs>
</svg>
</body></html>
